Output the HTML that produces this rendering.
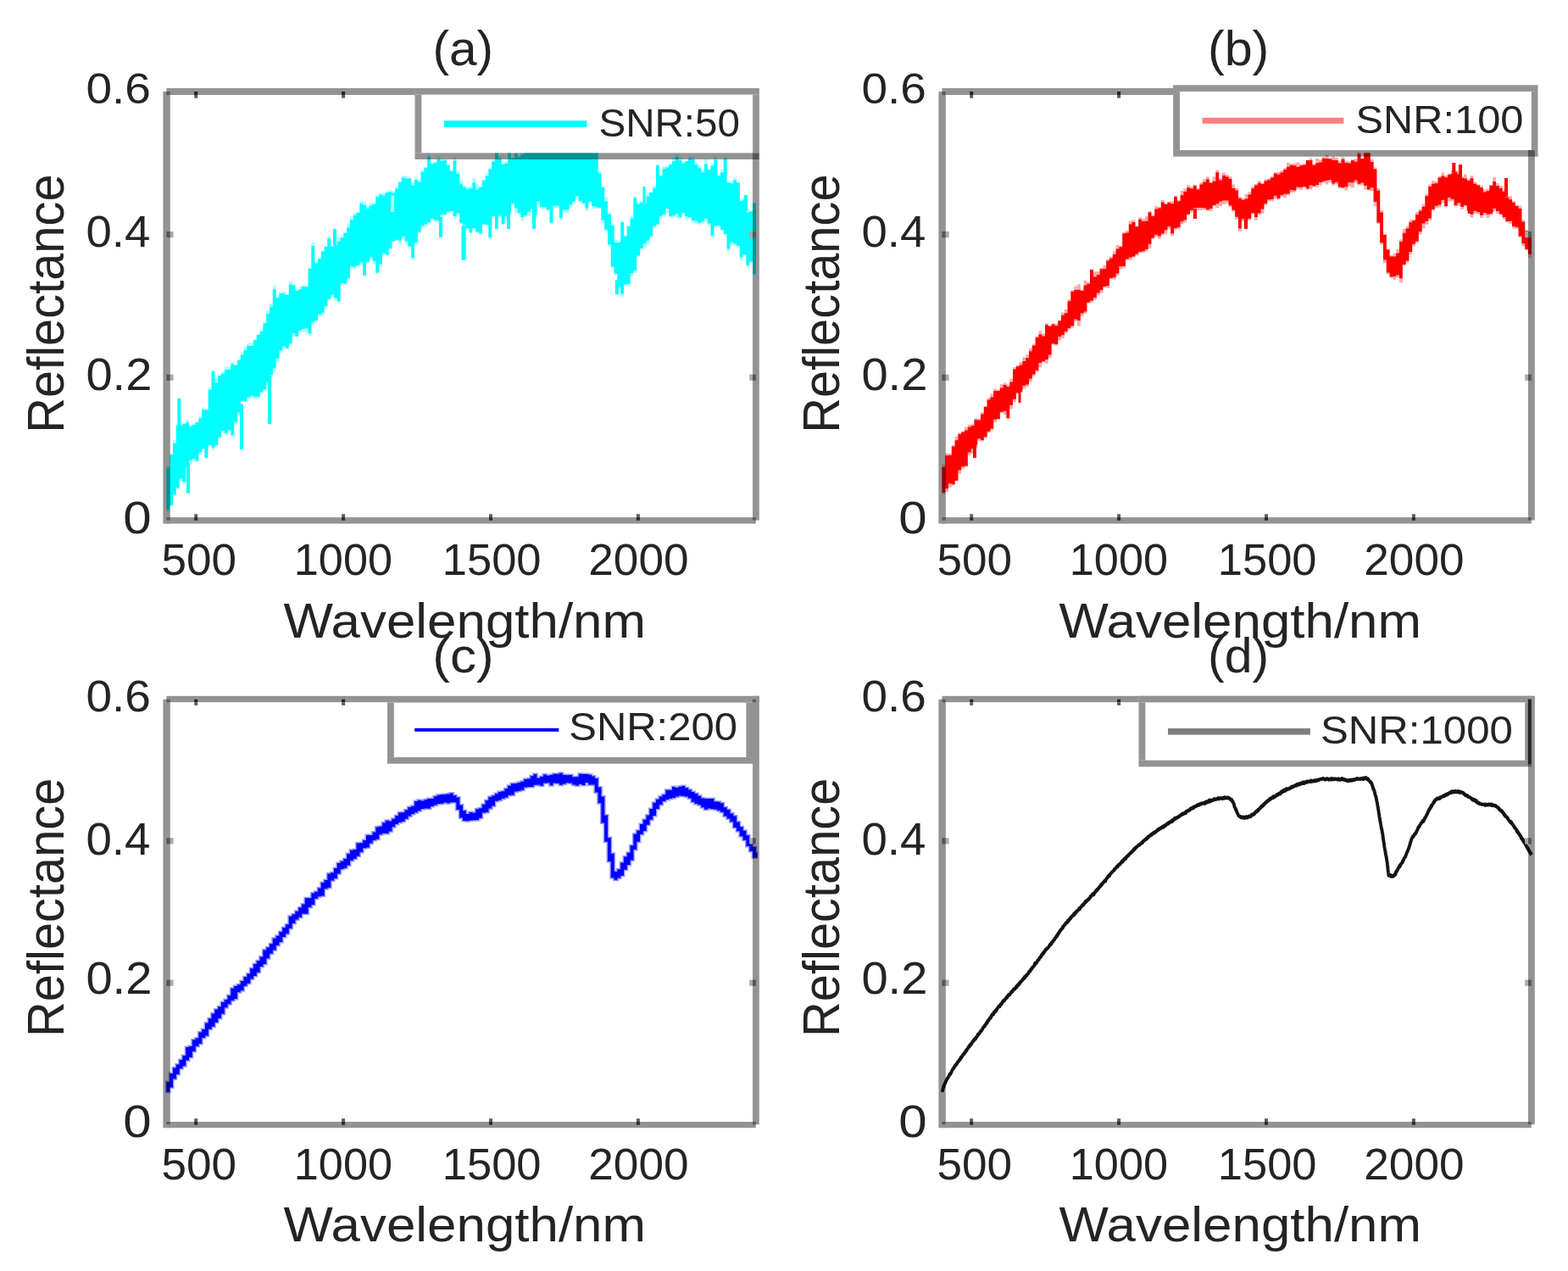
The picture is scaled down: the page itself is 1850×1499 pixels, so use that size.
<!DOCTYPE html>
<html><head><meta charset="utf-8"><title>Reflectance spectra under different SNR</title>
<style>html,body{margin:0;padding:0;background:#fff;overflow:hidden}svg{display:block}</style>
</head><body>
<svg width="1850" height="1499" viewBox="0 0 1850 1499">
<rect width="1850" height="1499" fill="#ffffff"/>
<defs>
<clipPath id="clipa"><rect x="194.4" y="106" width="699.6" height="509.8"/></clipPath>
<clipPath id="clipb"><rect x="1109.4" y="106" width="699.6" height="509.8"/></clipPath>
<clipPath id="clipc"><rect x="194.4" y="822.5" width="699.6" height="506"/></clipPath>
<clipPath id="clipd"><rect x="1109.4" y="822.5" width="699.6" height="506"/></clipPath>
</defs>
<path clip-path="url(#clipa)" d="M196.4 549.8 200.2 549.8 200.2 534.5 204 534.5 204 519.2 207.8 519.2 207.8 500.1 211.6 500.1 211.6 500.6 215.4 500.6 215.4 498.8 219.2 498.8 219.2 495 223 495 223 500.7 226.8 500.7 226.8 499.6 230.6 499.6 230.6 497 234.4 497 234.4 490.4 238.2 490.4 238.2 481.4 242 481.4 242 482 245.8 482 245.8 456.6 249.6 456.6 249.6 436.4 253.4 436.4 253.4 446.5 257.2 446.5 257.2 441 261 441 261 438.8 264.8 438.8 264.8 433.1 268.6 433.1 268.6 432.5 272.4 432.5 272.4 426.5 276.2 426.5 276.2 429.9 280 429.9 280 423.8 283.8 423.8 283.8 415.5 287.6 415.5 287.6 409 291.4 409 291.4 404.8 295.2 404.8 295.2 403.5 299 403.5 299 399.9 302.8 399.9 302.8 394 306.6 394 306.6 387.7 310.4 387.7 310.4 380.2 314.2 380.2 314.2 366.3 318 366.3 318 358 321.8 358 321.8 336.9 325.6 336.9 325.6 348.6 329.4 348.6 329.4 344.4 333.2 344.4 333.2 343.6 337 343.6 337 346.8 340.8 346.8 340.8 332.1 344.6 332.1 344.6 334.8 348.4 334.8 348.4 341.7 352.2 341.7 352.2 338.1 356 338.1 356 336.8 359.8 336.8 359.8 336.9 363.6 336.9 363.6 315.5 367.4 315.5 367.4 285.5 371.2 285.5 371.2 309 375 309 375 304 378.8 304 378.8 295.3 382.6 295.3 382.6 289.9 386.4 289.9 386.4 278.8 390.2 278.8 390.2 290 394 290 394 288.1 397.8 288.1 397.8 279.9 401.6 279.9 401.6 277.5 405.4 277.5 405.4 273.4 409.2 273.4 409.2 263.7 413 263.7 413 255.3 416.8 255.3 416.8 251.4 420.6 251.4 420.6 250 424.4 250 424.4 236.7 428.2 236.7 428.2 238.4 432 238.4 432 243.1 435.8 243.1 435.8 239.2 439.6 239.2 439.6 238.8 443.4 238.8 443.4 230 447.2 230 447.2 228 451 228 451 227.8 454.8 227.8 454.8 226 458.6 226 458.6 223.8 462.4 223.8 462.4 225.4 466.2 225.4 466.2 220 470 220 470 213.9 473.8 213.9 473.8 207.6 477.6 207.6 477.6 207.4 481.4 207.4 481.4 209.5 485.2 209.5 485.2 214.9 489 214.9 489 208.5 492.8 208.5 492.8 211.7 496.6 211.7 496.6 200.9 500.4 200.9 500.4 196.7 504.2 196.7 504.2 182.4 508 182.4 508 191.4 511.8 191.4 511.8 190.5 515.6 190.5 515.6 184.4 519.4 184.4 519.4 188 523.2 188 523.2 187.6 527 187.6 527 193.5 530.8 193.5 530.8 200.1 534.6 200.1 534.6 185.4 538.4 185.4 538.4 201.3 542.2 201.3 542.2 213.3 546 213.3 546 218.9 549.8 218.9 549.8 220.1 553.6 220.1 553.6 220 557.4 220 557.4 209.9 561.2 209.9 561.2 217.1 565 217.1 565 219.5 568.8 219.5 568.8 211.8 572.6 211.8 572.6 204.6 576.4 204.6 576.4 197.9 580.2 197.9 580.2 188.4 584 188.4 584 173.4 587.8 173.4 587.8 184.4 591.6 184.4 591.6 192.9 595.4 192.9 595.4 189.8 599.2 189.8 599.2 175.3 603 175.3 603 185.7 606.8 185.7 606.8 179.4 610.6 179.4 610.6 183.5 614.4 183.5 614.4 177.5 618.2 177.5 618.2 174.7 622 174.7 622 164.4 625.8 164.4 625.8 172.1 629.6 172.1 629.6 166 633.4 166 633.4 167.9 637.2 167.9 637.2 167.5 641 167.5 641 172.6 644.8 172.6 644.8 168.6 648.6 168.6 648.6 169.8 652.4 169.8 652.4 166.2 656.2 166.2 656.2 170.1 660 170.1 660 169.1 663.8 169.1 663.8 168.3 667.6 168.3 667.6 165.7 671.4 165.7 671.4 170.7 675.2 170.7 675.2 169.8 679 169.8 679 167.1 682.8 167.1 682.8 167 686.6 167 686.6 165.1 690.4 165.1 690.4 164.9 694.2 164.9 694.2 167.5 698 167.5 698 164.2 701.8 164.2 701.8 174.2 705.6 174.2 705.6 202.2 709.4 202.2 709.4 219.9 713.2 219.9 713.2 232.2 717 232.2 717 250.5 720.8 250.5 720.8 263 724.6 263 724.6 283.1 728.4 283.1 728.4 284.6 732.2 284.6 732.2 286.7 736 286.7 736 277.6 739.8 277.6 739.8 266.1 743.6 266.1 743.6 254.2 747.4 254.2 747.4 231.6 751.2 231.6 751.2 239.1 755 239.1 755 237 758.8 237 758.8 238.1 762.6 238.1 762.6 227.1 766.4 227.1 766.4 226.1 770.2 226.1 770.2 219 774 219 774 193.9 777.8 193.9 777.8 205.4 781.6 205.4 781.6 196.2 785.4 196.2 785.4 195.6 789.2 195.6 789.2 192.4 793 192.4 793 184.9 796.8 184.9 796.8 182.1 800.6 182.1 800.6 185.5 804.4 185.5 804.4 191.1 808.2 191.1 808.2 189.2 812 189.2 812 184.4 815.8 184.4 815.8 184.8 819.6 184.8 819.6 191.5 823.4 191.5 823.4 195.7 827.2 195.7 827.2 200.4 831 200.4 831 187.6 834.8 187.6 834.8 199.1 838.6 199.1 838.6 192.6 842.4 192.6 842.4 184.5 846.2 184.5 846.2 205.4 850 205.4 850 199.8 853.8 199.8 853.8 185.2 857.6 185.2 857.6 214.6 861.4 214.6 861.4 213.1 865.2 213.1 865.2 209.3 869 209.3 869 214.6 872.8 214.6 872.8 234.8 876.6 234.8 876.6 233.1 880.4 233.1 880.4 246 884.2 246 884.2 248.4 888 248.4 888 238.2 891.8 238.2 891.8 244.2 892 244.2 892 314.7 891.8 314.7 891.8 324.4 888 324.4 888 310.3 884.2 310.3 884.2 315.5 880.4 315.5 880.4 301.2 876.6 301.2 876.6 306.4 872.8 306.4 872.8 292.8 869 292.8 869 289.8 865.2 289.8 865.2 288 861.4 288 861.4 296.1 857.6 296.1 857.6 277 853.8 277 853.8 271.8 850 271.8 850 267.7 846.2 267.7 846.2 267.5 842.4 267.5 842.4 280 838.6 280 838.6 266.7 834.8 266.7 834.8 260.9 831 260.9 831 264.5 827.2 264.5 827.2 264.9 823.4 264.9 823.4 263.4 819.6 263.4 819.6 262.7 815.8 262.7 815.8 257.6 812 257.6 812 259.8 808.2 259.8 808.2 252.4 804.4 252.4 804.4 257.8 800.6 257.8 800.6 257 796.8 257 796.8 256 793 256 793 256.8 789.2 256.8 789.2 250.9 785.4 250.9 785.4 254.9 781.6 254.9 781.6 258 777.8 258 777.8 266.6 774 266.6 774 269.3 770.2 269.3 770.2 280.4 766.4 280.4 766.4 288.6 762.6 288.6 762.6 292.5 758.8 292.5 758.8 294.6 755 294.6 755 302.6 751.2 302.6 751.2 321.7 747.4 321.7 747.4 325.9 743.6 325.9 743.6 337.7 739.8 337.7 739.8 337.4 736 337.4 736 350.4 732.2 350.4 732.2 341.1 728.4 341.1 728.4 324.2 724.6 324.2 724.6 315.5 720.8 315.5 720.8 290.6 717 290.6 717 273.3 713.2 273.3 713.2 263.2 709.4 263.2 709.4 246.2 705.6 246.2 705.6 246.2 701.8 246.2 701.8 245.9 698 245.9 698 238.7 694.2 238.7 694.2 248.7 690.4 248.7 690.4 241.3 686.6 241.3 686.6 239 682.8 239 682.8 235.7 679 235.7 679 239.4 675.2 239.4 675.2 245.1 671.4 245.1 671.4 252.1 667.6 252.1 667.6 250.1 663.8 250.1 663.8 258.9 660 258.9 660 245.2 656.2 245.2 656.2 244.6 652.4 244.6 652.4 263.9 648.6 263.9 648.6 248.8 644.8 248.8 644.8 246.5 641 246.5 641 246.6 637.2 246.6 637.2 241.8 633.4 241.8 633.4 257.8 629.6 257.8 629.6 250.6 625.8 250.6 625.8 255.2 622 255.2 622 255.7 618.2 255.7 618.2 260.4 614.4 260.4 614.4 252.8 610.6 252.8 610.6 251.6 606.8 251.6 606.8 242.3 603 242.3 603 252.5 599.2 252.5 599.2 259.3 595.4 259.3 595.4 265.3 591.6 265.3 591.6 256.6 587.8 256.6 587.8 271.3 584 271.3 584 257.8 580.2 257.8 580.2 282.2 576.4 282.2 576.4 266.4 572.6 266.4 572.6 265.4 568.8 265.4 568.8 277.6 565 277.6 565 274.6 561.2 274.6 561.2 270.7 557.4 270.7 557.4 275.3 553.6 275.3 553.6 270.7 549.8 270.7 549.8 266.6 546 266.6 546 264 542.2 264 542.2 253.8 538.4 253.8 538.4 258 534.6 258 534.6 250.3 530.8 250.3 530.8 251 527 251 527 254.4 523.2 254.4 523.2 254.7 519.4 254.7 519.4 261.9 515.6 261.9 515.6 261.3 511.8 261.3 511.8 259 508 259 508 263.4 504.2 263.4 504.2 267.6 500.4 267.6 500.4 269 496.6 269 496.6 275 492.8 275 492.8 287.7 489 287.7 489 306.9 485.2 306.9 485.2 291.9 481.4 291.9 481.4 287.6 477.6 287.6 477.6 281.1 473.8 281.1 473.8 287 470 287 470 283.7 466.2 283.7 466.2 285.3 462.4 285.3 462.4 294.7 458.6 294.7 458.6 302.5 454.8 302.5 454.8 300.2 451 300.2 451 314.4 447.2 314.4 447.2 323 443.4 323 443.4 311.4 439.6 311.4 439.6 306.1 435.8 306.1 435.8 310 432 310 432 315.5 428.2 315.5 428.2 312.6 424.4 312.6 424.4 314 420.6 314 420.6 316.8 416.8 316.8 416.8 317 413 317 413 330.3 409.2 330.3 409.2 336.1 405.4 336.1 405.4 336.6 401.6 336.6 401.6 356.7 397.8 356.7 397.8 355 394 355 394 350.6 390.2 350.6 390.2 354.5 386.4 354.5 386.4 362.3 382.6 362.3 382.6 372.2 378.8 372.2 378.8 373.1 375 373.1 375 379.3 371.2 379.3 371.2 384.1 367.4 384.1 367.4 396.6 363.6 396.6 363.6 393.4 359.8 393.4 359.8 391.5 356 391.5 356 391.5 352.2 391.5 352.2 397.7 348.4 397.7 348.4 396.7 344.6 396.7 344.6 406.3 340.8 406.3 340.8 411.7 337 411.7 337 409.9 333.2 409.9 333.2 416.5 329.4 416.5 329.4 426.9 325.6 426.9 325.6 439.1 321.8 439.1 321.8 445.5 318 445.5 318 454.1 314.2 454.1 314.2 461 310.4 461 310.4 464.5 306.6 464.5 306.6 469.8 302.8 469.8 302.8 470.9 299 470.9 299 469.2 295.2 469.2 295.2 470.3 291.4 470.3 291.4 474.6 287.6 474.6 287.6 473.8 283.8 473.8 283.8 489.2 280 489.2 280 499.7 276.2 499.7 276.2 515.5 272.4 515.5 272.4 508.7 268.6 508.7 268.6 512.4 264.8 512.4 264.8 510.8 261 510.8 261 516.9 257.2 516.9 257.2 526.3 253.4 526.3 253.4 530.8 249.6 530.8 249.6 525.7 245.8 525.7 245.8 532 242 532 242 530.1 238.2 530.1 238.2 536.5 234.4 536.5 234.4 545.1 230.6 545.1 230.6 543.4 226.8 543.4 226.8 547.7 223 547.7 223 552 219.2 552 219.2 570.9 215.4 570.9 215.4 568.1 211.6 568.1 211.6 576.9 207.8 576.9 207.8 585.1 204 585.1 204 597.5 200.2 597.5 200.2 604.2 196.4 604.2Z" fill="#aaffff"/>
<path clip-path="url(#clipa)" d="M196.4 551.7 200.2 551.7 200.2 536.4 204 536.4 204 522.9 207.8 522.9 207.8 501.6 211.6 501.6 211.6 501.8 215.4 501.8 215.4 499.9 219.2 499.9 219.2 498.5 223 498.5 223 502.9 226.8 502.9 226.8 501 230.6 501 230.6 498.4 234.4 498.4 234.4 493.2 238.2 493.2 238.2 483.3 242 483.3 242 483.5 245.8 483.5 245.8 459.8 249.6 459.8 249.6 438.1 253.4 438.1 253.4 451.6 257.2 451.6 257.2 443.3 261 443.3 261 440.8 264.8 440.8 264.8 436.1 268.6 436.1 268.6 435.7 272.4 435.7 272.4 429.2 276.2 429.2 276.2 431 280 431 280 424.9 283.8 424.9 283.8 418.4 287.6 418.4 287.6 412.9 291.4 412.9 291.4 407.9 295.2 407.9 295.2 408 299 408 299 401.2 302.8 401.2 302.8 395.1 306.6 395.1 306.6 391.1 310.4 391.1 310.4 381.4 314.2 381.4 314.2 370.3 318 370.3 318 362 321.8 362 321.8 341.2 325.6 341.2 325.6 351.3 329.4 351.3 329.4 346.2 333.2 346.2 333.2 346.2 337 346.2 337 348 340.8 348 340.8 335.4 344.6 335.4 344.6 336.8 348.4 336.8 348.4 342.8 352.2 342.8 352.2 341.2 356 341.2 356 337.8 359.8 337.8 359.8 338.6 363.6 338.6 363.6 316.9 367.4 316.9 367.4 290.1 371.2 290.1 371.2 310.5 375 310.5 375 305.1 378.8 305.1 378.8 297 382.6 297 382.6 291.3 386.4 291.3 386.4 281.4 390.2 281.4 390.2 291 394 291 394 289.8 397.8 289.8 397.8 284.8 401.6 284.8 401.6 280.4 405.4 280.4 405.4 275 409.2 275 409.2 268.5 413 268.5 413 259.2 416.8 259.2 416.8 253.7 420.6 253.7 420.6 251.1 424.4 251.1 424.4 239.8 428.2 239.8 428.2 242 432 242 432 245.7 435.8 245.7 435.8 242.6 439.6 242.6 439.6 241 443.4 241 443.4 232.3 447.2 232.3 447.2 229.6 451 229.6 451 230.4 454.8 230.4 454.8 227 458.6 227 458.6 226.4 462.4 226.4 462.4 227.6 466.2 227.6 466.2 222.8 470 222.8 470 215 473.8 215 473.8 209.4 477.6 209.4 477.6 210.4 481.4 210.4 481.4 210.5 485.2 210.5 485.2 218.4 489 218.4 489 212.3 492.8 212.3 492.8 214.8 496.6 214.8 496.6 202.7 500.4 202.7 500.4 197.9 504.2 197.9 504.2 184.9 508 184.9 508 193.6 511.8 193.6 511.8 192 515.6 192 515.6 188.1 519.4 188.1 519.4 189.8 523.2 189.8 523.2 189.1 527 189.1 527 195 530.8 195 530.8 202 534.6 202 534.6 189.5 538.4 189.5 538.4 204.8 542.2 204.8 542.2 217.5 546 217.5 546 220.7 549.8 220.7 549.8 223.3 553.6 223.3 553.6 222.1 557.4 222.1 557.4 215.4 561.2 215.4 561.2 223.6 565 223.6 565 221.1 568.8 221.1 568.8 213.1 572.6 213.1 572.6 207.5 576.4 207.5 576.4 199.5 580.2 199.5 580.2 190.4 584 190.4 584 175.7 587.8 175.7 587.8 187.2 591.6 187.2 591.6 194 595.4 194 595.4 192.4 599.2 192.4 599.2 177 603 177 603 186.7 606.8 186.7 606.8 181.1 610.6 181.1 610.6 185 614.4 185 614.4 182.3 618.2 182.3 618.2 177.1 622 177.1 622 166.1 625.8 166.1 625.8 173.2 629.6 173.2 629.6 167.7 633.4 167.7 633.4 170.2 637.2 170.2 637.2 169.9 641 169.9 641 173.8 644.8 173.8 644.8 169.8 648.6 169.8 648.6 171.4 652.4 171.4 652.4 168.5 656.2 168.5 656.2 171.7 660 171.7 660 171.4 663.8 171.4 663.8 170.8 667.6 170.8 667.6 166.8 671.4 166.8 671.4 171.8 675.2 171.8 675.2 171.1 679 171.1 679 170.5 682.8 170.5 682.8 169.3 686.6 169.3 686.6 168.1 690.4 168.1 690.4 167.8 694.2 167.8 694.2 168.8 698 168.8 698 165.4 701.8 165.4 701.8 177.5 705.6 177.5 705.6 204.2 709.4 204.2 709.4 221.1 713.2 221.1 713.2 237.4 717 237.4 717 252.5 720.8 252.5 720.8 266.3 724.6 266.3 724.6 286.2 728.4 286.2 728.4 286 732.2 286 732.2 287.8 736 287.8 736 278.7 739.8 278.7 739.8 267.3 743.6 267.3 743.6 257.6 747.4 257.6 747.4 233.3 751.2 233.3 751.2 240.8 755 240.8 755 239.1 758.8 239.1 758.8 240.3 762.6 240.3 762.6 231.5 766.4 231.5 766.4 227.3 770.2 227.3 770.2 222 774 222 774 195 777.8 195 777.8 207.6 781.6 207.6 781.6 199.3 785.4 199.3 785.4 197.5 789.2 197.5 789.2 194.2 793 194.2 793 190.3 796.8 190.3 796.8 185.2 800.6 185.2 800.6 189.3 804.4 189.3 804.4 192.5 808.2 192.5 808.2 190.3 812 190.3 812 187 815.8 187 815.8 188 819.6 188 819.6 194.3 823.4 194.3 823.4 198.2 827.2 198.2 827.2 203.2 831 203.2 831 193.4 834.8 193.4 834.8 200.5 838.6 200.5 838.6 195.4 842.4 195.4 842.4 188.4 846.2 188.4 846.2 207.5 850 207.5 850 203.2 853.8 203.2 853.8 186.9 857.6 186.9 857.6 215.6 861.4 215.6 861.4 216.3 865.2 216.3 865.2 212.4 869 212.4 869 215.6 872.8 215.6 872.8 237 876.6 237 876.6 235.8 880.4 235.8 880.4 250.2 884.2 250.2 884.2 249.5 888 249.5 888 239.9 891.8 239.9 891.8 249 892 249 892 313.4 891.8 313.4 891.8 323 888 323 888 308.3 884.2 308.3 884.2 312.7 880.4 312.7 880.4 300 876.6 300 876.6 303.3 872.8 303.3 872.8 289.7 869 289.7 869 287.5 865.2 287.5 865.2 285.4 861.4 285.4 861.4 293.6 857.6 293.6 857.6 275.9 853.8 275.9 853.8 270.7 850 270.7 850 266.3 846.2 266.3 846.2 265.9 842.4 265.9 842.4 277.7 838.6 277.7 838.6 263.4 834.8 263.4 834.8 257.7 831 257.7 831 261.2 827.2 261.2 827.2 262.7 823.4 262.7 823.4 260.7 819.6 260.7 819.6 259.9 815.8 259.9 815.8 256.1 812 256.1 812 255.3 808.2 255.3 808.2 251.1 804.4 251.1 804.4 256.2 800.6 256.2 800.6 251.9 796.8 251.9 796.8 254.3 793 254.3 793 254.9 789.2 254.9 789.2 245.9 785.4 245.9 785.4 253.1 781.6 253.1 781.6 254.8 777.8 254.8 777.8 264.6 774 264.6 774 266.4 770.2 266.4 770.2 278.5 766.4 278.5 766.4 283.7 762.6 283.7 762.6 286.9 758.8 286.9 758.8 292.8 755 292.8 755 301.5 751.2 301.5 751.2 318.8 747.4 318.8 747.4 322.1 743.6 322.1 743.6 334.6 739.8 334.6 739.8 335.4 736 335.4 736 346.6 732.2 346.6 732.2 338.6 728.4 338.6 728.4 322.8 724.6 322.8 724.6 314.4 720.8 314.4 720.8 288.2 717 288.2 717 270.8 713.2 270.8 713.2 259.6 709.4 259.6 709.4 245.1 705.6 245.1 705.6 244.2 701.8 244.2 701.8 243.1 698 243.1 698 237.4 694.2 237.4 694.2 245.8 690.4 245.8 690.4 239.4 686.6 239.4 686.6 236.9 682.8 236.9 682.8 231.3 679 231.3 679 237.9 675.2 237.9 675.2 241.6 671.4 241.6 671.4 247.2 667.6 247.2 667.6 247.3 663.8 247.3 663.8 257.2 660 257.2 660 242.8 656.2 242.8 656.2 242.5 652.4 242.5 652.4 262.7 648.6 262.7 648.6 247.3 644.8 247.3 644.8 244.6 641 244.6 641 244.2 637.2 244.2 637.2 237.4 633.4 237.4 633.4 253.8 629.6 253.8 629.6 246 625.8 246 625.8 249.6 622 249.6 622 254 618.2 254 618.2 256 614.4 256 614.4 251.1 610.6 251.1 610.6 245.5 606.8 245.5 606.8 239.8 603 239.8 603 250.5 599.2 250.5 599.2 255 595.4 255 595.4 263.9 591.6 263.9 591.6 254.4 587.8 254.4 587.8 269.8 584 269.8 584 254.7 580.2 254.7 580.2 279.9 576.4 279.9 576.4 265.1 572.6 265.1 572.6 264.3 568.8 264.3 568.8 275 565 275 565 273.4 561.2 273.4 561.2 269 557.4 269 557.4 274.2 553.6 274.2 553.6 268.9 549.8 268.9 549.8 265.4 546 265.4 546 262.8 542.2 262.8 542.2 251.5 538.4 251.5 538.4 255.1 534.6 255.1 534.6 248.9 530.8 248.9 530.8 249.4 527 249.4 527 253.1 523.2 253.1 523.2 253 519.4 253 519.4 259.7 515.6 259.7 515.6 259.2 511.8 259.2 511.8 257.8 508 257.8 508 262.3 504.2 262.3 504.2 264.4 500.4 264.4 500.4 266.3 496.6 266.3 496.6 273.5 492.8 273.5 492.8 285.9 489 285.9 489 303.9 485.2 303.9 485.2 290.6 481.4 290.6 481.4 284.2 477.6 284.2 477.6 278.5 473.8 278.5 473.8 283.8 470 283.8 470 282.7 466.2 282.7 466.2 284.2 462.4 284.2 462.4 293 458.6 293 458.6 300.2 454.8 300.2 454.8 298.6 451 298.6 451 311.3 447.2 311.3 447.2 321.6 443.4 321.6 443.4 307.7 439.6 307.7 439.6 303.2 435.8 303.2 435.8 308.7 432 308.7 432 311.6 428.2 311.6 428.2 309.5 424.4 309.5 424.4 312.7 420.6 312.7 420.6 314.5 416.8 314.5 416.8 314.3 413 314.3 413 328.1 409.2 328.1 409.2 334.5 405.4 334.5 405.4 333.9 401.6 333.9 401.6 355.3 397.8 355.3 397.8 351.5 394 351.5 394 347.6 390.2 347.6 390.2 352.4 386.4 352.4 386.4 361.1 382.6 361.1 382.6 369 378.8 369 378.8 371 375 371 375 377.8 371.2 377.8 371.2 380 367.4 380 367.4 393.2 363.6 393.2 363.6 387.1 359.8 387.1 359.8 387.9 356 387.9 356 389.4 352.2 389.4 352.2 396.6 348.4 396.6 348.4 393.1 344.6 393.1 344.6 405.3 340.8 405.3 340.8 410.7 337 410.7 337 408.2 333.2 408.2 333.2 413.6 329.4 413.6 329.4 422.8 325.6 422.8 325.6 433.9 321.8 433.9 321.8 442.2 318 442.2 318 450.6 314.2 450.6 314.2 458.9 310.4 458.9 310.4 462.2 306.6 462.2 306.6 467.9 302.8 467.9 302.8 467.7 299 467.7 299 466.8 295.2 466.8 295.2 468.6 291.4 468.6 291.4 472.9 287.6 472.9 287.6 472.8 283.8 472.8 283.8 486.6 280 486.6 280 498.2 276.2 498.2 276.2 512.9 272.4 512.9 272.4 506.9 268.6 506.9 268.6 511 264.8 511 264.8 507.8 261 507.8 261 515.5 257.2 515.5 257.2 524.7 253.4 524.7 253.4 527.7 249.6 527.7 249.6 524.7 245.8 524.7 245.8 528 242 528 242 528.9 238.2 528.9 238.2 533.2 234.4 533.2 234.4 543.2 230.6 543.2 230.6 541 226.8 541 226.8 542.7 223 542.7 223 550.8 219.2 550.8 219.2 568.1 215.4 568.1 215.4 564.1 211.6 564.1 211.6 575.6 207.8 575.6 207.8 583.2 204 583.2 204 595.7 200.2 595.7 200.2 601.2 196.4 601.2ZM220 546.8H224V581.9H220ZM209.4 470H213.4V504.9H209.4ZM544.6 266.2H549.6V306.7H544.6ZM725.8 330.3H729.8V347.3H725.8ZM732.2 261.8H736.2V289.5H732.2ZM316.1 443.2H320.1V500H316.1ZM283 476.5H287V530H283ZM241.4 524.3H245.4V540H241.4ZM461 250H465V230.4H461ZM628 241H632V270H628ZM598 247.9H602V270H598ZM518 256H522V280H518ZM758.5 220H761.5V240.1H758.5ZM878 230H882V248.7H878ZM428 304.2H432V325H428ZM393 270H397V290.2H393Z" fill="#00ffff"/>
<g style="mix-blend-mode:multiply"><rect x="192.4" y="108" width="8.4" height="509.6" fill="#939393"/><rect x="196.4" y="104" width="699.4" height="8" fill="#939393"/><rect x="888" y="104" width="7.8" height="509.6" fill="#939393"/><rect x="196.4" y="610.1" width="695.4" height="7.5" fill="#939393"/></g>
<g><rect x="229.2" y="108" width="4" height="4" fill="#222"/><rect x="229.2" y="112" width="4" height="3.7" fill="#5e5e5e"/><rect x="229.2" y="610.1" width="4" height="3.7" fill="#2a2a2a"/><rect x="229.2" y="606.3" width="4" height="3.8" fill="#5e5e5e"/><rect x="403.1" y="108" width="4" height="4" fill="#222"/><rect x="403.1" y="112" width="4" height="3.7" fill="#5e5e5e"/><rect x="403.1" y="610.1" width="4" height="3.7" fill="#2a2a2a"/><rect x="403.1" y="606.3" width="4" height="3.8" fill="#5e5e5e"/><rect x="577" y="108" width="4" height="4" fill="#222"/><rect x="577" y="112" width="4" height="3.7" fill="#5e5e5e"/><rect x="577" y="610.1" width="4" height="3.7" fill="#2a2a2a"/><rect x="577" y="606.3" width="4" height="3.8" fill="#5e5e5e"/><rect x="750.9" y="108" width="4" height="4" fill="#222"/><rect x="750.9" y="112" width="4" height="3.7" fill="#5e5e5e"/><rect x="750.9" y="610.1" width="4" height="3.7" fill="#2a2a2a"/><rect x="750.9" y="606.3" width="4" height="3.8" fill="#5e5e5e"/><rect x="196.4" y="441.6" width="4.4" height="7.2" fill="#555"/><rect x="200.8" y="441.6" width="3.8" height="7.2" fill="#aaa"/><rect x="888" y="441.6" width="3.8" height="7.2" fill="#555"/><rect x="884.2" y="441.6" width="3.8" height="7.2" fill="#aaa"/><rect x="196.4" y="273" width="4.4" height="7.2" fill="#555"/><rect x="200.8" y="273" width="3.8" height="7.2" fill="#aaa"/><rect x="888" y="273" width="3.8" height="7.2" fill="#555"/><rect x="884.2" y="273" width="3.8" height="7.2" fill="#aaa"/><rect x="196.4" y="108" width="4.4" height="4" fill="#5c5c5c"/><rect x="888" y="108" width="3.8" height="4" fill="#5c5c5c"/><rect x="196.4" y="610.1" width="4.4" height="3.5" fill="#5c5c5c"/><rect x="888" y="610.1" width="3.8" height="3.5" fill="#5c5c5c"/></g>
<rect x="489.5" y="104" width="406.2" height="76.4" fill="#ffffff"/>
<g style="mix-blend-mode:multiply"><rect x="489.5" y="104" width="406.2" height="7.6" fill="#939393"/><rect x="489.5" y="180.4" width="406.2" height="7.6" fill="#939393"/><rect x="489.5" y="111.6" width="7.8" height="68.8" fill="#939393"/><rect x="888.1" y="111.6" width="7.6" height="68.8" fill="#939393"/></g>
<rect x="524" y="142.3" width="168.4" height="7.6" fill="#00ffff"/>
<path clip-path="url(#clipb)" d="M1111.4 548.1 1115.2 548.1 1115.2 534.7 1119 534.7 1119 534.7 1122.8 534.7 1122.8 525.2 1126.6 525.2 1126.6 514.8 1130.4 514.8 1130.4 510.5 1134.2 510.5 1134.2 508.2 1138 508.2 1138 503.4 1141.8 503.4 1141.8 500.8 1145.6 500.8 1145.6 500.3 1149.4 500.3 1149.4 493.2 1153.2 493.2 1153.2 493.6 1157 493.6 1157 486.2 1160.8 486.2 1160.8 478.9 1164.6 478.9 1164.6 469.4 1168.4 469.4 1168.4 464.5 1172.2 464.5 1172.2 458.3 1176 458.3 1176 459.5 1179.8 459.5 1179.8 453.1 1183.6 453.1 1183.6 451.5 1187.4 451.5 1187.4 453.6 1191.2 453.6 1191.2 446.7 1195 446.7 1195 433 1198.8 433 1198.8 430.7 1202.6 430.7 1202.6 426.9 1206.4 426.9 1206.4 421.4 1210.2 421.4 1210.2 418.3 1214 418.3 1214 410.8 1217.8 410.8 1217.8 405.5 1221.6 405.5 1221.6 396.5 1225.4 396.5 1225.4 390.3 1229.2 390.3 1229.2 393.4 1233 393.4 1233 380.9 1236.8 380.9 1236.8 383.7 1240.6 383.7 1240.6 381.3 1244.4 381.3 1244.4 381.7 1248.2 381.7 1248.2 377.4 1252 377.4 1252 368.4 1255.8 368.4 1255.8 364.9 1259.6 364.9 1259.6 353.1 1263.4 353.1 1263.4 342.6 1267.2 342.6 1267.2 337.7 1271 337.7 1271 335.2 1274.8 335.2 1274.8 341.7 1278.6 341.7 1278.6 330.7 1282.4 330.7 1282.4 332.8 1286.2 332.8 1286.2 326.1 1290 326.1 1290 320.3 1293.8 320.3 1293.8 320.3 1297.6 320.3 1297.6 316.1 1301.4 316.1 1301.4 313 1305.2 313 1305.2 305.5 1309 305.5 1309 302.6 1312.8 302.6 1312.8 296.5 1316.6 296.5 1316.6 289.1 1320.4 289.1 1320.4 290 1324.2 290 1324.2 274.1 1328 274.1 1328 272.1 1331.8 272.1 1331.8 260.4 1335.6 260.4 1335.6 259.3 1339.4 259.3 1339.4 266.3 1343.2 266.3 1343.2 256.5 1347 256.5 1347 258.2 1350.8 258.2 1350.8 255.3 1354.6 255.3 1354.6 249.1 1358.4 249.1 1358.4 253.4 1362.2 253.4 1362.2 242.9 1366 242.9 1366 244 1369.8 244 1369.8 235.8 1373.6 235.8 1373.6 239.7 1377.4 239.7 1377.4 237.4 1381.2 237.4 1381.2 237.2 1385 237.2 1385 230.8 1388.8 230.8 1388.8 236 1392.6 236 1392.6 224.9 1396.4 224.9 1396.4 222.5 1400.2 222.5 1400.2 218.6 1404 218.6 1404 220.4 1407.8 220.4 1407.8 217.5 1411.6 217.5 1411.6 221.6 1415.4 221.6 1415.4 215.3 1419.2 215.3 1419.2 211.2 1423 211.2 1423 208.3 1426.8 208.3 1426.8 214.6 1430.6 214.6 1430.6 208.3 1434.4 208.3 1434.4 200.4 1438.2 200.4 1438.2 210.3 1442 210.3 1442 203.6 1445.8 203.6 1445.8 205.8 1449.6 205.8 1449.6 208 1453.4 208 1453.4 217.5 1457.2 217.5 1457.2 221.8 1461 221.8 1461 232.5 1464.8 232.5 1464.8 233.8 1468.6 233.8 1468.6 229.1 1472.4 229.1 1472.4 226.2 1476.2 226.2 1476.2 219.8 1480 219.8 1480 217.1 1483.8 217.1 1483.8 213.2 1487.6 213.2 1487.6 215.5 1491.4 215.5 1491.4 211.3 1495.2 211.3 1495.2 210.3 1499 210.3 1499 208.1 1502.8 208.1 1502.8 203.3 1506.6 203.3 1506.6 202.7 1510.4 202.7 1510.4 201.1 1514.2 201.1 1514.2 197.9 1518 197.9 1518 191.7 1521.8 191.7 1521.8 193.3 1525.6 193.3 1525.6 192.8 1529.4 192.8 1529.4 191.4 1533.2 191.4 1533.2 193.6 1537 193.6 1537 193.3 1540.8 193.3 1540.8 189.4 1544.6 189.4 1544.6 186.8 1548.4 186.8 1548.4 193.2 1552.2 193.2 1552.2 187.1 1556 187.1 1556 188.6 1559.8 188.6 1559.8 185.5 1563.6 185.5 1563.6 182.8 1567.4 182.8 1567.4 186.3 1571.2 186.3 1571.2 184.5 1575 184.5 1575 185.9 1578.8 185.9 1578.8 190.2 1582.6 190.2 1582.6 185.4 1586.4 185.4 1586.4 189.5 1590.2 189.5 1590.2 190.5 1594 190.5 1594 187.9 1597.8 187.9 1597.8 187.2 1601.6 187.2 1601.6 179.4 1605.4 179.4 1605.4 186.2 1609.2 186.2 1609.2 179.2 1613 179.2 1613 179.4 1616.8 179.4 1616.8 187.7 1620.6 187.7 1620.6 197.5 1624.4 197.5 1624.4 222.1 1628.2 222.1 1628.2 248 1632 248 1632 275.5 1635.8 275.5 1635.8 293.4 1639.6 293.4 1639.6 301.1 1643.4 301.1 1643.4 298.8 1647.2 298.8 1647.2 294.1 1651 294.1 1651 282.5 1654.8 282.5 1654.8 270 1658.6 270 1658.6 266.4 1662.4 266.4 1662.4 259.2 1666.2 259.2 1666.2 259.1 1670 259.1 1670 250 1673.8 250 1673.8 246.9 1677.6 246.9 1677.6 240.6 1681.4 240.6 1681.4 228.9 1685.2 228.9 1685.2 217.6 1689 217.6 1689 213.1 1692.8 213.1 1692.8 214.2 1696.6 214.2 1696.6 207.9 1700.4 207.9 1700.4 203.6 1704.2 203.6 1704.2 207.2 1708 207.2 1708 204.8 1711.8 204.8 1711.8 200.8 1715.6 200.8 1715.6 200.7 1719.4 200.7 1719.4 201.6 1723.2 201.6 1723.2 208.6 1727 208.6 1727 205.6 1730.8 205.6 1730.8 211.2 1734.6 211.2 1734.6 207.2 1738.4 207.2 1738.4 214.5 1742.2 214.5 1742.2 217.4 1746 217.4 1746 218.7 1749.8 218.7 1749.8 223.3 1753.6 223.3 1753.6 222.7 1757.4 222.7 1757.4 217.8 1761.2 217.8 1761.2 209 1765 209 1765 216.1 1768.8 216.1 1768.8 219 1772.6 219 1772.6 224.2 1776.4 224.2 1776.4 230.7 1780.2 230.7 1780.2 231.5 1784 231.5 1784 237.3 1787.8 237.3 1787.8 241.9 1791.6 241.9 1791.6 242.8 1795.4 242.8 1795.4 259.2 1799.2 259.2 1799.2 271.3 1803 271.3 1803 275.5 1806.8 275.5 1806.8 277.3 1807 277.3 1807 301.2 1806.8 301.2 1806.8 304 1803 304 1803 295.2 1799.2 295.2 1799.2 290.2 1795.4 290.2 1795.4 279.9 1791.6 279.9 1791.6 269.9 1787.8 269.9 1787.8 269.5 1784 269.5 1784 263.7 1780.2 263.7 1780.2 262.2 1776.4 262.2 1776.4 258.5 1772.6 258.5 1772.6 253.4 1768.8 253.4 1768.8 252.1 1765 252.1 1765 248.1 1761.2 248.1 1761.2 253.4 1757.4 253.4 1757.4 257 1753.6 257 1753.6 253.7 1749.8 253.7 1749.8 257.1 1746 257.1 1746 252.5 1742.2 252.5 1742.2 251.8 1738.4 251.8 1738.4 256.6 1734.6 256.6 1734.6 250.8 1730.8 250.8 1730.8 243.8 1727 243.8 1727 247.1 1723.2 247.1 1723.2 243.1 1719.4 243.1 1719.4 243.6 1715.6 243.6 1715.6 237.3 1711.8 237.3 1711.8 237.6 1708 237.6 1708 244.1 1704.2 244.1 1704.2 239.7 1700.4 239.7 1700.4 244.6 1696.6 244.6 1696.6 245.4 1692.8 245.4 1692.8 248.6 1689 248.6 1689 260.3 1685.2 260.3 1685.2 264.7 1681.4 264.7 1681.4 269.4 1677.6 269.4 1677.6 276.6 1673.8 276.6 1673.8 286.5 1670 286.5 1670 290.3 1666.2 290.3 1666.2 299.9 1662.4 299.9 1662.4 309.4 1658.6 309.4 1658.6 313.5 1654.8 313.5 1654.8 333.4 1651 333.4 1651 327.3 1647.2 327.3 1647.2 330 1643.4 330 1643.4 327.6 1639.6 327.6 1639.6 323.3 1635.8 323.3 1635.8 310.2 1632 310.2 1632 288.4 1628.2 288.4 1628.2 264.2 1624.4 264.2 1624.4 243.2 1620.6 243.2 1620.6 225 1616.8 225 1616.8 224.6 1613 224.6 1613 223.5 1609.2 223.5 1609.2 218.1 1605.4 218.1 1605.4 218.8 1601.6 218.8 1601.6 215.2 1597.8 215.2 1597.8 221.6 1594 221.6 1594 219.8 1590.2 219.8 1590.2 224.7 1586.4 224.7 1586.4 222.3 1582.6 222.3 1582.6 222.6 1578.8 222.6 1578.8 217.2 1575 217.2 1575 218.7 1571.2 218.7 1571.2 215 1567.4 215 1567.4 217.6 1563.6 217.6 1563.6 215.4 1559.8 215.4 1559.8 218.6 1556 218.6 1556 220.7 1552.2 220.7 1552.2 220.6 1548.4 220.6 1548.4 223.5 1544.6 223.5 1544.6 223.9 1540.8 223.9 1540.8 221.2 1537 221.2 1537 223.9 1533.2 223.9 1533.2 222.8 1529.4 222.8 1529.4 226.6 1525.6 226.6 1525.6 226.9 1521.8 226.9 1521.8 230.2 1518 230.2 1518 233.2 1514.2 233.2 1514.2 231.9 1510.4 231.9 1510.4 235.8 1506.6 235.8 1506.6 233.9 1502.8 233.9 1502.8 237.2 1499 237.2 1499 237 1495.2 237 1495.2 241.5 1491.4 241.5 1491.4 252.1 1487.6 252.1 1487.6 253.2 1483.8 253.2 1483.8 259.7 1480 259.7 1480 252.4 1476.2 252.4 1476.2 259.4 1472.4 259.4 1472.4 262.3 1468.6 262.3 1468.6 261.2 1464.8 261.2 1464.8 272.9 1461 272.9 1461 258.8 1457.2 258.8 1457.2 249.7 1453.4 249.7 1453.4 244.5 1449.6 244.5 1449.6 239.8 1445.8 239.8 1445.8 240.9 1442 240.9 1442 243 1438.2 243 1438.2 244.9 1434.4 244.9 1434.4 243.2 1430.6 243.2 1430.6 249 1426.8 249 1426.8 248.5 1423 248.5 1423 247.2 1419.2 247.2 1419.2 248.1 1415.4 248.1 1415.4 248.3 1411.6 248.3 1411.6 247.4 1407.8 247.4 1407.8 250.7 1404 250.7 1404 253.7 1400.2 253.7 1400.2 262.2 1396.4 262.2 1396.4 264 1392.6 264 1392.6 270.3 1388.8 270.3 1388.8 271.3 1385 271.3 1385 278.2 1381.2 278.2 1381.2 269.7 1377.4 269.7 1377.4 275.7 1373.6 275.7 1373.6 277.2 1369.8 277.2 1369.8 281.7 1366 281.7 1366 279.1 1362.2 279.1 1362.2 281.7 1358.4 281.7 1358.4 292.9 1354.6 292.9 1354.6 296.4 1350.8 296.4 1350.8 298.2 1347 298.2 1347 298.2 1343.2 298.2 1343.2 301.6 1339.4 301.6 1339.4 303.5 1335.6 303.5 1335.6 306.8 1331.8 306.8 1331.8 306.8 1328 306.8 1328 315.7 1324.2 315.7 1324.2 317.7 1320.4 317.7 1320.4 324.9 1316.6 324.9 1316.6 329.4 1312.8 329.4 1312.8 329.3 1309 329.3 1309 339.6 1305.2 339.6 1305.2 339.2 1301.4 339.2 1301.4 345.4 1297.6 345.4 1297.6 348.4 1293.8 348.4 1293.8 353.7 1290 353.7 1290 356.6 1286.2 356.6 1286.2 357.7 1282.4 357.7 1282.4 369.9 1278.6 369.9 1278.6 373.4 1274.8 373.4 1274.8 384.4 1271 384.4 1271 379.2 1267.2 379.2 1267.2 386.2 1263.4 386.2 1263.4 388.8 1259.6 388.8 1259.6 393.4 1255.8 393.4 1255.8 399 1252 399 1252 401.3 1248.2 401.3 1248.2 407.8 1244.4 407.8 1244.4 406.4 1240.6 406.4 1240.6 422 1236.8 422 1236.8 428.5 1233 428.5 1233 427.3 1229.2 427.3 1229.2 433.3 1225.4 433.3 1225.4 438.6 1221.6 438.6 1221.6 443.7 1217.8 443.7 1217.8 450.4 1214 450.4 1214 455.9 1210.2 455.9 1210.2 458.5 1206.4 458.5 1206.4 462.9 1202.6 462.9 1202.6 464.8 1198.8 464.8 1198.8 474.2 1195 474.2 1195 482.3 1191.2 482.3 1191.2 494.5 1187.4 494.5 1187.4 488.9 1183.6 488.9 1183.6 487.3 1179.8 487.3 1179.8 495.1 1176 495.1 1176 498.3 1172.2 498.3 1172.2 506.9 1168.4 506.9 1168.4 510.7 1164.6 510.7 1164.6 516.4 1160.8 516.4 1160.8 520.7 1157 520.7 1157 519.7 1153.2 519.7 1153.2 528.1 1149.4 528.1 1149.4 535.1 1145.6 535.1 1145.6 537.3 1141.8 537.3 1141.8 550.8 1138 550.8 1138 552.6 1134.2 552.6 1134.2 558.6 1130.4 558.6 1130.4 567.8 1126.6 567.8 1126.6 572.5 1122.8 572.5 1122.8 574.7 1119 574.7 1119 580.1 1115.2 580.1 1115.2 582.7 1111.4 582.7Z" fill="#ffaaaa"/>
<path clip-path="url(#clipb)" d="M1111.4 550.9 1115.2 550.9 1115.2 537.3 1119 537.3 1119 536.9 1122.8 536.9 1122.8 526.4 1126.6 526.4 1126.6 519.3 1130.4 519.3 1130.4 512 1134.2 512 1134.2 509.7 1138 509.7 1138 507.5 1141.8 507.5 1141.8 503.7 1145.6 503.7 1145.6 502 1149.4 502 1149.4 495.2 1153.2 495.2 1153.2 495.5 1157 495.5 1157 488.4 1160.8 488.4 1160.8 480 1164.6 480 1164.6 471.5 1168.4 471.5 1168.4 468.5 1172.2 468.5 1172.2 461 1176 461 1176 460.9 1179.8 460.9 1179.8 457.5 1183.6 457.5 1183.6 454 1187.4 454 1187.4 456.1 1191.2 456.1 1191.2 450.6 1195 450.6 1195 435.4 1198.8 435.4 1198.8 432.2 1202.6 432.2 1202.6 430.5 1206.4 430.5 1206.4 426.1 1210.2 426.1 1210.2 422.3 1214 422.3 1214 414.2 1217.8 414.2 1217.8 407.5 1221.6 407.5 1221.6 398.1 1225.4 398.1 1225.4 394.5 1229.2 394.5 1229.2 396.4 1233 396.4 1233 383.3 1236.8 383.3 1236.8 384.7 1240.6 384.7 1240.6 382.6 1244.4 382.6 1244.4 384.3 1248.2 384.3 1248.2 378.6 1252 378.6 1252 371.8 1255.8 371.8 1255.8 369.2 1259.6 369.2 1259.6 355.2 1263.4 355.2 1263.4 343.8 1267.2 343.8 1267.2 342.1 1271 342.1 1271 341.7 1274.8 341.7 1274.8 342.9 1278.6 342.9 1278.6 336.4 1282.4 336.4 1282.4 334.8 1286.2 334.8 1286.2 328.4 1290 328.4 1290 326.6 1293.8 326.6 1293.8 324.3 1297.6 324.3 1297.6 317.5 1301.4 317.5 1301.4 317 1305.2 317 1305.2 307.4 1309 307.4 1309 304.8 1312.8 304.8 1312.8 299.9 1316.6 299.9 1316.6 293.6 1320.4 293.6 1320.4 291.3 1324.2 291.3 1324.2 275.4 1328 275.4 1328 274.5 1331.8 274.5 1331.8 264.6 1335.6 264.6 1335.6 262.1 1339.4 262.1 1339.4 267.5 1343.2 267.5 1343.2 258.8 1347 258.8 1347 260.9 1350.8 260.9 1350.8 260.7 1354.6 260.7 1354.6 250.5 1358.4 250.5 1358.4 255.1 1362.2 255.1 1362.2 246.6 1366 246.6 1366 245.5 1369.8 245.5 1369.8 238.5 1373.6 238.5 1373.6 241 1377.4 241 1377.4 238.9 1381.2 238.9 1381.2 240.3 1385 240.3 1385 232.1 1388.8 232.1 1388.8 237.6 1392.6 237.6 1392.6 230.2 1396.4 230.2 1396.4 226.1 1400.2 226.1 1400.2 221.2 1404 221.2 1404 222.4 1407.8 222.4 1407.8 219.1 1411.6 219.1 1411.6 223.5 1415.4 223.5 1415.4 217.4 1419.2 217.4 1419.2 214.7 1423 214.7 1423 211.4 1426.8 211.4 1426.8 215.7 1430.6 215.7 1430.6 213.8 1434.4 213.8 1434.4 203.2 1438.2 203.2 1438.2 212.5 1442 212.5 1442 207 1445.8 207 1445.8 208.4 1449.6 208.4 1449.6 211 1453.4 211 1453.4 222.1 1457.2 222.1 1457.2 224.4 1461 224.4 1461 233.7 1464.8 233.7 1464.8 235.7 1468.6 235.7 1468.6 234.4 1472.4 234.4 1472.4 229.5 1476.2 229.5 1476.2 222.2 1480 222.2 1480 218.5 1483.8 218.5 1483.8 215.7 1487.6 215.7 1487.6 217.1 1491.4 217.1 1491.4 213.6 1495.2 213.6 1495.2 212.2 1499 212.2 1499 209.4 1502.8 209.4 1502.8 204.4 1506.6 204.4 1506.6 205.7 1510.4 205.7 1510.4 203.5 1514.2 203.5 1514.2 199.9 1518 199.9 1518 196.8 1521.8 196.8 1521.8 194.7 1525.6 194.7 1525.6 195.2 1529.4 195.2 1529.4 197 1533.2 197 1533.2 195.2 1537 195.2 1537 194.5 1540.8 194.5 1540.8 190.9 1544.6 190.9 1544.6 189 1548.4 189 1548.4 194.8 1552.2 194.8 1552.2 192.3 1556 192.3 1556 191.5 1559.8 191.5 1559.8 186.7 1563.6 186.7 1563.6 186.9 1567.4 186.9 1567.4 187.5 1571.2 187.5 1571.2 188.7 1575 188.7 1575 189.1 1578.8 189.1 1578.8 192.5 1582.6 192.5 1582.6 187.8 1586.4 187.8 1586.4 192.1 1590.2 192.1 1590.2 192.5 1594 192.5 1594 189.2 1597.8 189.2 1597.8 190.7 1601.6 190.7 1601.6 181.5 1605.4 181.5 1605.4 187.3 1609.2 187.3 1609.2 180.7 1613 180.7 1613 180.7 1616.8 180.7 1616.8 191 1620.6 191 1620.6 199.5 1624.4 199.5 1624.4 224.7 1628.2 224.7 1628.2 250.6 1632 250.6 1632 277 1635.8 277 1635.8 294.4 1639.6 294.4 1639.6 302.4 1643.4 302.4 1643.4 302.5 1647.2 302.5 1647.2 298.5 1651 298.5 1651 285.1 1654.8 285.1 1654.8 274.8 1658.6 274.8 1658.6 269.4 1662.4 269.4 1662.4 262.3 1666.2 262.3 1666.2 260.3 1670 260.3 1670 253 1673.8 253 1673.8 248.8 1677.6 248.8 1677.6 243.8 1681.4 243.8 1681.4 231.2 1685.2 231.2 1685.2 220 1689 220 1689 216.7 1692.8 216.7 1692.8 216.2 1696.6 216.2 1696.6 209.5 1700.4 209.5 1700.4 207.6 1704.2 207.6 1704.2 209.3 1708 209.3 1708 206.1 1711.8 206.1 1711.8 205.1 1715.6 205.1 1715.6 203 1719.4 203 1719.4 205.4 1723.2 205.4 1723.2 210.1 1727 210.1 1727 210.4 1730.8 210.4 1730.8 213 1734.6 213 1734.6 210.3 1738.4 210.3 1738.4 216.7 1742.2 216.7 1742.2 218.6 1746 218.6 1746 221.3 1749.8 221.3 1749.8 226.4 1753.6 226.4 1753.6 225.2 1757.4 225.2 1757.4 219 1761.2 219 1761.2 214 1765 214 1765 219.2 1768.8 219.2 1768.8 222 1772.6 222 1772.6 226 1776.4 226 1776.4 232.5 1780.2 232.5 1780.2 235.2 1784 235.2 1784 238.8 1787.8 238.8 1787.8 242.9 1791.6 242.9 1791.6 246 1795.4 246 1795.4 261.4 1799.2 261.4 1799.2 272.4 1803 272.4 1803 278.1 1806.8 278.1 1806.8 279.4 1807 279.4 1807 299.4 1806.8 299.4 1806.8 299.7 1803 299.7 1803 293.9 1799.2 293.9 1799.2 287.3 1795.4 287.3 1795.4 278.4 1791.6 278.4 1791.6 267.8 1787.8 267.8 1787.8 266.9 1784 266.9 1784 260.7 1780.2 260.7 1780.2 260.9 1776.4 260.9 1776.4 256 1772.6 256 1772.6 252.4 1768.8 252.4 1768.8 249.1 1765 249.1 1765 245.8 1761.2 245.8 1761.2 252 1757.4 252 1757.4 252.8 1753.6 252.8 1753.6 250.9 1749.8 250.9 1749.8 253.7 1746 253.7 1746 250.1 1742.2 250.1 1742.2 248.8 1738.4 248.8 1738.4 252.8 1734.6 252.8 1734.6 248.4 1730.8 248.4 1730.8 242.1 1727 242.1 1727 243.9 1723.2 243.9 1723.2 239.3 1719.4 239.3 1719.4 242 1715.6 242 1715.6 234.8 1711.8 234.8 1711.8 232.9 1708 232.9 1708 243 1704.2 243 1704.2 235.8 1700.4 235.8 1700.4 241.6 1696.6 241.6 1696.6 242.7 1692.8 242.7 1692.8 246.7 1689 246.7 1689 257.4 1685.2 257.4 1685.2 261.1 1681.4 261.1 1681.4 263.4 1677.6 263.4 1677.6 273.3 1673.8 273.3 1673.8 284.4 1670 284.4 1670 287.7 1666.2 287.7 1666.2 297.1 1662.4 297.1 1662.4 307.4 1658.6 307.4 1658.6 311.9 1654.8 311.9 1654.8 328.2 1651 328.2 1651 324.4 1647.2 324.4 1647.2 325.9 1643.4 325.9 1643.4 326.6 1639.6 326.6 1639.6 321.5 1635.8 321.5 1635.8 306.4 1632 306.4 1632 286.3 1628.2 286.3 1628.2 262.5 1624.4 262.5 1624.4 238 1620.6 238 1620.6 221.3 1616.8 221.3 1616.8 223.6 1613 223.6 1613 219 1609.2 219 1609.2 215.6 1605.4 215.6 1605.4 216.8 1601.6 216.8 1601.6 212.4 1597.8 212.4 1597.8 215.2 1594 215.2 1594 215.2 1590.2 215.2 1590.2 220.2 1586.4 220.2 1586.4 221.2 1582.6 221.2 1582.6 220.6 1578.8 220.6 1578.8 214.7 1575 214.7 1575 216.5 1571.2 216.5 1571.2 211.9 1567.4 211.9 1567.4 212.7 1563.6 212.7 1563.6 213.7 1559.8 213.7 1559.8 215.1 1556 215.1 1556 217.9 1552.2 217.9 1552.2 219.4 1548.4 219.4 1548.4 218.5 1544.6 218.5 1544.6 222.2 1540.8 222.2 1540.8 220 1537 220 1537 220.9 1533.2 220.9 1533.2 220.6 1529.4 220.6 1529.4 224.4 1525.6 224.4 1525.6 224 1521.8 224 1521.8 228.6 1518 228.6 1518 228.7 1514.2 228.7 1514.2 229.9 1510.4 229.9 1510.4 234.1 1506.6 234.1 1506.6 230.7 1502.8 230.7 1502.8 234.9 1499 234.9 1499 235.2 1495.2 235.2 1495.2 240.2 1491.4 240.2 1491.4 246.6 1487.6 246.6 1487.6 251.5 1483.8 251.5 1483.8 255.9 1480 255.9 1480 251.3 1476.2 251.3 1476.2 257.7 1472.4 257.7 1472.4 259.3 1468.6 259.3 1468.6 258.2 1464.8 258.2 1464.8 269.6 1461 269.6 1461 255.7 1457.2 255.7 1457.2 247.7 1453.4 247.7 1453.4 242.2 1449.6 242.2 1449.6 236.5 1445.8 236.5 1445.8 236.4 1442 236.4 1442 237.5 1438.2 237.5 1438.2 240.2 1434.4 240.2 1434.4 242 1430.6 242 1430.6 246.1 1426.8 246.1 1426.8 247.2 1423 247.2 1423 245.2 1419.2 245.2 1419.2 245.1 1415.4 245.1 1415.4 245 1411.6 245 1411.6 245.4 1407.8 245.4 1407.8 248.1 1404 248.1 1404 252.6 1400.2 252.6 1400.2 259.3 1396.4 259.3 1396.4 261.2 1392.6 261.2 1392.6 268 1388.8 268 1388.8 269 1385 269 1385 275.5 1381.2 275.5 1381.2 266.9 1377.4 266.9 1377.4 271.3 1373.6 271.3 1373.6 275.5 1369.8 275.5 1369.8 278.5 1366 278.5 1366 276.7 1362.2 276.7 1362.2 280.6 1358.4 280.6 1358.4 287.8 1354.6 287.8 1354.6 294 1350.8 294 1350.8 296.2 1347 296.2 1347 296.9 1343.2 296.9 1343.2 299.4 1339.4 299.4 1339.4 302.4 1335.6 302.4 1335.6 303.5 1331.8 303.5 1331.8 305.6 1328 305.6 1328 313.8 1324.2 313.8 1324.2 313.9 1320.4 313.9 1320.4 322.4 1316.6 322.4 1316.6 326.9 1312.8 326.9 1312.8 328 1309 328 1309 337.1 1305.2 337.1 1305.2 337.7 1301.4 337.7 1301.4 342 1297.6 342 1297.6 345.6 1293.8 345.6 1293.8 351 1290 351 1290 354.4 1286.2 354.4 1286.2 356.5 1282.4 356.5 1282.4 367.5 1278.6 367.5 1278.6 369.4 1274.8 369.4 1274.8 378.1 1271 378.1 1271 376.5 1267.2 376.5 1267.2 384.3 1263.4 384.3 1263.4 387 1259.6 387 1259.6 391 1255.8 391 1255.8 395.1 1252 395.1 1252 397 1248.2 397 1248.2 406.1 1244.4 406.1 1244.4 405.2 1240.6 405.2 1240.6 418.6 1236.8 418.6 1236.8 423.9 1233 423.9 1233 426 1229.2 426 1229.2 427.9 1225.4 427.9 1225.4 436.7 1221.6 436.7 1221.6 441.6 1217.8 441.6 1217.8 446.7 1214 446.7 1214 453.5 1210.2 453.5 1210.2 454.8 1206.4 454.8 1206.4 461.7 1202.6 461.7 1202.6 463.3 1198.8 463.3 1198.8 470.7 1195 470.7 1195 477.7 1191.2 477.7 1191.2 493.1 1187.4 493.1 1187.4 484.8 1183.6 484.8 1183.6 485.7 1179.8 485.7 1179.8 493.9 1176 493.9 1176 494.8 1172.2 494.8 1172.2 505.6 1168.4 505.6 1168.4 508.7 1164.6 508.7 1164.6 515.2 1160.8 515.2 1160.8 519 1157 519 1157 517.3 1153.2 517.3 1153.2 524.8 1149.4 524.8 1149.4 529.2 1145.6 529.2 1145.6 533.4 1141.8 533.4 1141.8 549.5 1138 549.5 1138 550.3 1134.2 550.3 1134.2 554.5 1130.4 554.5 1130.4 566.8 1126.6 566.8 1126.6 571.2 1122.8 571.2 1122.8 570.2 1119 570.2 1119 576.3 1115.2 576.3 1115.2 580.7 1111.4 580.7ZM1713.3 192H1717.3V205H1713.3ZM1721 194H1725V209.9H1721ZM1732 246.6H1738V252H1732ZM1758 247.6H1762V250H1758ZM1775 210H1779V231.7H1775ZM1148 523.3H1152V540H1148ZM1286 318H1290V334.1H1286ZM1408 246.4H1412V258H1408ZM1468 259H1472V270H1468ZM1201.5 460.5H1204.5V475H1201.5ZM1541 189H1545V193H1541Z" fill="#ff0000"/>
<g style="mix-blend-mode:multiply"><rect x="1107.4" y="108" width="8.4" height="509.6" fill="#939393"/><rect x="1111.4" y="104" width="699.4" height="8" fill="#939393"/><rect x="1803" y="104" width="7.8" height="509.6" fill="#939393"/><rect x="1111.4" y="610.1" width="695.4" height="7.5" fill="#939393"/></g>
<g><rect x="1144.2" y="108" width="4" height="4" fill="#222"/><rect x="1144.2" y="112" width="4" height="3.7" fill="#5e5e5e"/><rect x="1144.2" y="610.1" width="4" height="3.7" fill="#2a2a2a"/><rect x="1144.2" y="606.3" width="4" height="3.8" fill="#5e5e5e"/><rect x="1318.1" y="108" width="4" height="4" fill="#222"/><rect x="1318.1" y="112" width="4" height="3.7" fill="#5e5e5e"/><rect x="1318.1" y="610.1" width="4" height="3.7" fill="#2a2a2a"/><rect x="1318.1" y="606.3" width="4" height="3.8" fill="#5e5e5e"/><rect x="1492" y="108" width="4" height="4" fill="#222"/><rect x="1492" y="112" width="4" height="3.7" fill="#5e5e5e"/><rect x="1492" y="610.1" width="4" height="3.7" fill="#2a2a2a"/><rect x="1492" y="606.3" width="4" height="3.8" fill="#5e5e5e"/><rect x="1665.9" y="108" width="4" height="4" fill="#222"/><rect x="1665.9" y="112" width="4" height="3.7" fill="#5e5e5e"/><rect x="1665.9" y="610.1" width="4" height="3.7" fill="#2a2a2a"/><rect x="1665.9" y="606.3" width="4" height="3.8" fill="#5e5e5e"/><rect x="1111.4" y="441.6" width="4.4" height="7.2" fill="#555"/><rect x="1115.8" y="441.6" width="3.8" height="7.2" fill="#aaa"/><rect x="1803" y="441.6" width="3.8" height="7.2" fill="#555"/><rect x="1799.2" y="441.6" width="3.8" height="7.2" fill="#aaa"/><rect x="1111.4" y="273" width="4.4" height="7.2" fill="#555"/><rect x="1115.8" y="273" width="3.8" height="7.2" fill="#aaa"/><rect x="1803" y="273" width="3.8" height="7.2" fill="#555"/><rect x="1799.2" y="273" width="3.8" height="7.2" fill="#aaa"/><rect x="1111.4" y="108" width="4.4" height="4" fill="#5c5c5c"/><rect x="1803" y="108" width="3.8" height="4" fill="#5c5c5c"/><rect x="1111.4" y="610.1" width="4.4" height="3.5" fill="#5c5c5c"/><rect x="1803" y="610.1" width="3.8" height="3.5" fill="#5c5c5c"/></g>
<rect x="1384.2" y="100.3" width="430.3" height="76.8" fill="#ffffff"/>
<g style="mix-blend-mode:multiply"><rect x="1384.2" y="100.3" width="430.3" height="7.6" fill="#939393"/><rect x="1384.2" y="177.1" width="430.3" height="7.6" fill="#939393"/><rect x="1384.2" y="107.9" width="7.8" height="69.2" fill="#939393"/><rect x="1806.9" y="107.9" width="7.6" height="69.2" fill="#939393"/></g>
<rect x="1418.5" y="138.8" width="166.9" height="7" fill="#ff8080"/>
<path clip-path="url(#clipc)" d="M196.4 1276.1 200.2 1276.1 200.2 1266.1 204 1266.1 204 1259.4 207.8 1259.4 207.8 1255.5 211.6 1255.5 211.6 1249.9 215.4 1249.9 215.4 1245.1 219.2 1245.1 219.2 1235 223 1235 223 1234.1 226.8 1234.1 226.8 1226.6 230.6 1226.6 230.6 1224.5 234.4 1224.5 234.4 1217.5 238.2 1217.5 238.2 1214 242 1214 242 1206.6 245.8 1206.6 245.8 1201.3 249.6 1201.3 249.6 1195.6 253.4 1195.6 253.4 1190.4 257.2 1190.4 257.2 1187.2 261 1187.2 261 1181.9 264.8 1181.9 264.8 1179.1 268.6 1179.1 268.6 1174.1 272.4 1174.1 272.4 1165.7 276.2 1165.7 276.2 1162.9 280 1162.9 280 1161.3 283.8 1161.3 283.8 1157 287.6 1157 287.6 1152.3 291.4 1152.3 291.4 1148.5 295.2 1148.5 295.2 1142.2 299 1142.2 299 1137.1 302.8 1137.1 302.8 1133.3 306.6 1133.3 306.6 1128.6 310.4 1128.6 310.4 1120.4 314.2 1120.4 314.2 1117.5 318 1117.5 318 1113.2 321.8 1113.2 321.8 1106.7 325.6 1106.7 325.6 1103.7 329.4 1103.7 329.4 1099.1 333.2 1099.1 333.2 1093.9 337 1093.9 337 1090.6 340.8 1090.6 340.8 1080.8 344.6 1080.8 344.6 1078.2 348.4 1078.2 348.4 1074.8 352.2 1074.8 352.2 1070.6 356 1070.6 356 1066.5 359.8 1066.5 359.8 1059.3 363.6 1059.3 363.6 1059.3 367.4 1059.3 367.4 1053.6 371.2 1053.6 371.2 1051.7 375 1051.7 375 1047.5 378.8 1047.5 378.8 1041.1 382.6 1041.1 382.6 1037.9 386.4 1037.9 386.4 1030.6 390.2 1030.6 390.2 1029.3 394 1029.3 394 1024.1 397.8 1024.1 397.8 1017.9 401.6 1017.9 401.6 1015.8 405.4 1015.8 405.4 1013 409.2 1013 409.2 1007.1 413 1007.1 413 1002.7 416.8 1002.7 416.8 1002 420.6 1002 420.6 994.5 424.4 994.5 424.4 994.3 428.2 994.3 428.2 991 432 991 432 985.1 435.8 985.1 435.8 985.1 439.6 985.1 439.6 981.5 443.4 981.5 443.4 975.5 447.2 975.5 447.2 974.8 451 974.8 451 970.6 454.8 970.6 454.8 967.8 458.6 967.8 458.6 968.4 462.4 968.4 462.4 965.7 466.2 965.7 466.2 962.1 470 962.1 470 958.4 473.8 958.4 473.8 958.2 477.6 958.2 477.6 955.2 481.4 955.2 481.4 952 485.2 952 485.2 950.8 489 950.8 489 945 492.8 945 492.8 943.8 496.6 943.8 496.6 944.6 500.4 944.6 500.4 943.3 504.2 943.3 504.2 942.1 508 942.1 508 942.1 511.8 942.1 511.8 939.2 515.6 939.2 515.6 937.8 519.4 937.8 519.4 937.2 523.2 937.2 523.2 937.1 527 937.1 527 936.6 530.8 936.6 530.8 935.6 534.6 935.6 534.6 938.3 538.4 938.3 538.4 940.4 542.2 940.4 542.2 949.6 546 949.6 546 956 549.8 956 549.8 960 553.6 960 553.6 957.9 557.4 957.9 557.4 958.7 561.2 958.7 561.2 954.2 565 954.2 565 953.2 568.8 953.2 568.8 948.7 572.6 948.7 572.6 944.1 576.4 944.1 576.4 940 580.2 940 580.2 938.4 584 938.4 584 935.9 587.8 935.9 587.8 934.1 591.6 934.1 591.6 933.3 595.4 933.3 595.4 930.3 599.2 930.3 599.2 926.8 603 926.8 603 924.2 606.8 924.2 606.8 924.1 610.6 924.1 610.6 923 614.4 923 614.4 921.7 618.2 921.7 618.2 918.9 622 918.9 622 918.5 625.8 918.5 625.8 915.2 629.6 915.2 629.6 913 633.4 913 633.4 917.7 637.2 917.7 637.2 916.1 641 916.1 641 913.5 644.8 913.5 644.8 914.7 648.6 914.7 648.6 914.1 652.4 914.1 652.4 912.8 656.2 912.8 656.2 912.7 660 912.7 660 911.7 663.8 911.7 663.8 914.1 667.6 914.1 667.6 914.3 671.4 914.3 671.4 913.9 675.2 913.9 675.2 916.6 679 916.6 679 916.2 682.8 916.2 682.8 912.7 686.6 912.7 686.6 913.1 690.4 913.1 690.4 913.1 694.2 913.1 694.2 913.7 698 913.7 698 915.5 701.8 915.5 701.8 917.9 705.6 917.9 705.6 928.6 709.4 928.6 709.4 939.6 713.2 939.6 713.2 961.4 717 961.4 717 988 720.8 988 720.8 1006.7 724.6 1006.7 724.6 1028.1 728.4 1028.1 728.4 1025.3 732.2 1025.3 732.2 1017.4 736 1017.4 736 1010.6 739.8 1010.6 739.8 1005.8 743.6 1005.8 743.6 997.2 747.4 997.2 747.4 983.7 751.2 983.7 751.2 979.5 755 979.5 755 972.1 758.8 972.1 758.8 966.8 762.6 966.8 762.6 961.5 766.4 961.5 766.4 954.1 770.2 954.1 770.2 946.8 774 946.8 774 942.7 777.8 942.7 777.8 939.4 781.6 939.4 781.6 937.2 785.4 937.2 785.4 931.8 789.2 931.8 789.2 931.8 793 931.8 793 928.1 796.8 928.1 796.8 929.1 800.6 929.1 800.6 927.8 804.4 927.8 804.4 926.9 808.2 926.9 808.2 929.2 812 929.2 812 931.5 815.8 931.5 815.8 933.9 819.6 933.9 819.6 936 823.4 936 823.4 938.7 827.2 938.7 827.2 941.6 831 941.6 831 942 834.8 942 834.8 942.1 838.6 942.1 838.6 942.1 842.4 942.1 842.4 945.4 846.2 945.4 846.2 945.8 850 945.8 850 947.3 853.8 947.3 853.8 952.3 857.6 952.3 857.6 954.9 861.4 954.9 861.4 959.5 865.2 959.5 865.2 962.5 869 962.5 869 969.4 872.8 969.4 872.8 975.3 876.6 975.3 876.6 979.7 880.4 979.7 880.4 985.3 884.2 985.3 884.2 991.1 888 991.1 888 998.9 891.8 998.9 891.8 1005.5 893.7 1005.5 893.7 1011.6 891.8 1011.6 891.8 1011.6 888 1011.6 888 1003.9 884.2 1003.9 884.2 997.9 880.4 997.9 880.4 990.8 876.6 990.8 876.6 986.3 872.8 986.3 872.8 980.3 869 980.3 869 975.9 865.2 975.9 865.2 969.2 861.4 969.2 861.4 965.4 857.6 965.4 857.6 962.5 853.8 962.5 853.8 957.8 850 957.8 850 955.9 846.2 955.9 846.2 954.4 842.4 954.4 842.4 954.1 838.6 954.1 838.6 953.4 834.8 953.4 834.8 954.8 831 954.8 831 952.3 827.2 952.3 827.2 949.3 823.4 949.3 823.4 947.9 819.6 947.9 819.6 945.7 815.8 945.7 815.8 941.5 812 941.5 812 939.5 808.2 939.5 808.2 938.7 804.4 938.7 804.4 938.5 800.6 938.5 800.6 939.6 796.8 939.6 796.8 941 793 941 793 941.7 789.2 941.7 789.2 943 785.4 943 785.4 945 781.6 945 781.6 948.9 777.8 948.9 777.8 954 774 954 774 962 770.2 962 770.2 966.8 766.4 966.8 766.4 972.7 762.6 972.7 762.6 980 758.8 980 758.8 984 755 984 755 992.8 751.2 992.8 751.2 1002.1 747.4 1002.1 747.4 1014.6 743.6 1014.6 743.6 1020 739.8 1020 739.8 1025.8 736 1025.8 736 1032.8 732.2 1032.8 732.2 1035.5 728.4 1035.5 728.4 1037.8 724.6 1037.8 724.6 1035.2 720.8 1035.2 720.8 1016 717 1016 717 992.7 713.2 992.7 713.2 970.6 709.4 970.6 709.4 947.2 705.6 947.2 705.6 934.5 701.8 934.5 701.8 925.4 698 925.4 698 925.6 694.2 925.6 694.2 923 690.4 923 690.4 926 686.6 926 686.6 924.7 682.8 924.7 682.8 926.5 679 926.5 679 925.5 675.2 925.5 675.2 923.6 671.4 923.6 671.4 923.2 667.6 923.2 667.6 924.4 663.8 924.4 663.8 925.8 660 925.8 660 923.8 656.2 923.8 656.2 923.5 652.4 923.5 652.4 926.2 648.6 926.2 648.6 923.2 644.8 923.2 644.8 923.6 641 923.6 641 926.8 637.2 926.8 637.2 925.6 633.4 925.6 633.4 925.8 629.6 925.8 629.6 928.1 625.8 928.1 625.8 928 622 928 622 928.4 618.2 928.4 618.2 931.8 614.4 931.8 614.4 932.8 610.6 932.8 610.6 933.5 606.8 933.5 606.8 937.5 603 937.5 603 938 599.2 938 599.2 940.6 595.4 940.6 595.4 941.8 591.6 941.8 591.6 943.7 587.8 943.7 587.8 944.7 584 944.7 584 950.6 580.2 950.6 580.2 953.6 576.4 953.6 576.4 958 572.6 958 572.6 958.4 568.8 958.4 568.8 964.8 565 964.8 565 967 561.2 967 561.2 967.3 557.4 967.3 557.4 967.6 553.6 967.6 553.6 968.2 549.8 968.2 549.8 967.9 546 967.9 546 964.5 542.2 964.5 542.2 955.1 538.4 955.1 538.4 946.3 534.6 946.3 534.6 946.3 530.8 946.3 530.8 947.2 527 947.2 527 946.4 523.2 946.4 523.2 947.7 519.4 947.7 519.4 948.1 515.6 948.1 515.6 949.6 511.8 949.6 511.8 950.9 508 950.9 508 953.6 504.2 953.6 504.2 953.6 500.4 953.6 500.4 954.1 496.6 954.1 496.6 956.2 492.8 956.2 492.8 958.2 489 958.2 489 960.1 485.2 960.1 485.2 962.4 481.4 962.4 481.4 965.7 477.6 965.7 477.6 968.8 473.8 968.8 473.8 970 470 970 470 972.1 466.2 972.1 466.2 975.2 462.4 975.2 462.4 980.5 458.6 980.5 458.6 982.9 454.8 982.9 454.8 982.7 451 982.7 451 984.3 447.2 984.3 447.2 989.7 443.4 989.7 443.4 990.9 439.6 990.9 439.6 994.5 435.8 994.5 435.8 999.4 432 999.4 432 1000.2 428.2 1000.2 428.2 1004.9 424.4 1004.9 424.4 1009.7 420.6 1009.7 420.6 1012.8 416.8 1012.8 416.8 1015.1 413 1015.1 413 1020.4 409.2 1020.4 409.2 1023.7 405.4 1023.7 405.4 1025 401.6 1025 401.6 1030.6 397.8 1030.6 397.8 1036 394 1036 394 1038.4 390.2 1038.4 390.2 1046.8 386.4 1046.8 386.4 1048.3 382.6 1048.3 382.6 1056.5 378.8 1056.5 378.8 1057.3 375 1057.3 375 1059.7 371.2 1059.7 371.2 1067.1 367.4 1067.1 367.4 1069.9 363.6 1069.9 363.6 1077.8 359.8 1077.8 359.8 1077.8 356 1077.8 356 1082 352.2 1082 352.2 1084.5 348.4 1084.5 348.4 1089.1 344.6 1089.1 344.6 1095.1 340.8 1095.1 340.8 1101.3 337 1101.3 337 1105 333.2 1105 333.2 1110.9 329.4 1110.9 329.4 1115 325.6 1115 325.6 1120.4 321.8 1120.4 321.8 1124.8 318 1124.8 318 1130.2 314.2 1130.2 314.2 1137.1 310.4 1137.1 310.4 1139.9 306.6 1139.9 306.6 1146.8 302.8 1146.8 302.8 1150.9 299 1150.9 299 1154.4 295.2 1154.4 295.2 1159.7 291.4 1159.7 291.4 1162.7 287.6 1162.7 287.6 1168.2 283.8 1168.2 283.8 1170.3 280 1170.3 280 1178.1 276.2 1178.1 276.2 1179.9 272.4 1179.9 272.4 1184.3 268.6 1184.3 268.6 1188.2 264.8 1188.2 264.8 1195.7 261 1195.7 261 1200.9 257.2 1200.9 257.2 1205.7 253.4 1205.7 253.4 1210.7 249.6 1210.7 249.6 1213.8 245.8 1213.8 245.8 1221.6 242 1221.6 242 1223.9 238.2 1223.9 238.2 1231 234.4 1231 234.4 1234.1 230.6 1234.1 230.6 1240 226.8 1240 226.8 1247.1 223 1247.1 223 1250.5 219.2 1250.5 219.2 1257.2 215.4 1257.2 215.4 1260.3 211.6 1260.3 211.6 1267 207.8 1267 207.8 1272.5 204 1272.5 204 1282.6 200.2 1282.6 200.2 1287.8 196.4 1287.8Z" fill="#9999ff" stroke="#9999ff" stroke-width="3.0" stroke-linejoin="miter"/>
<path clip-path="url(#clipc)" d="M196.4 1276.1 200.2 1276.1 200.2 1266.1 204 1266.1 204 1259.4 207.8 1259.4 207.8 1255.5 211.6 1255.5 211.6 1249.9 215.4 1249.9 215.4 1245.1 219.2 1245.1 219.2 1235 223 1235 223 1234.1 226.8 1234.1 226.8 1226.6 230.6 1226.6 230.6 1224.5 234.4 1224.5 234.4 1217.5 238.2 1217.5 238.2 1214 242 1214 242 1206.6 245.8 1206.6 245.8 1201.3 249.6 1201.3 249.6 1195.6 253.4 1195.6 253.4 1190.4 257.2 1190.4 257.2 1187.2 261 1187.2 261 1181.9 264.8 1181.9 264.8 1179.1 268.6 1179.1 268.6 1174.1 272.4 1174.1 272.4 1165.7 276.2 1165.7 276.2 1162.9 280 1162.9 280 1161.3 283.8 1161.3 283.8 1157 287.6 1157 287.6 1152.3 291.4 1152.3 291.4 1148.5 295.2 1148.5 295.2 1142.2 299 1142.2 299 1137.1 302.8 1137.1 302.8 1133.3 306.6 1133.3 306.6 1128.6 310.4 1128.6 310.4 1120.4 314.2 1120.4 314.2 1117.5 318 1117.5 318 1113.2 321.8 1113.2 321.8 1106.7 325.6 1106.7 325.6 1103.7 329.4 1103.7 329.4 1099.1 333.2 1099.1 333.2 1093.9 337 1093.9 337 1090.6 340.8 1090.6 340.8 1080.8 344.6 1080.8 344.6 1078.2 348.4 1078.2 348.4 1074.8 352.2 1074.8 352.2 1070.6 356 1070.6 356 1066.5 359.8 1066.5 359.8 1059.3 363.6 1059.3 363.6 1059.3 367.4 1059.3 367.4 1053.6 371.2 1053.6 371.2 1051.7 375 1051.7 375 1047.5 378.8 1047.5 378.8 1041.1 382.6 1041.1 382.6 1037.9 386.4 1037.9 386.4 1030.6 390.2 1030.6 390.2 1029.3 394 1029.3 394 1024.1 397.8 1024.1 397.8 1017.9 401.6 1017.9 401.6 1015.8 405.4 1015.8 405.4 1013 409.2 1013 409.2 1007.1 413 1007.1 413 1002.7 416.8 1002.7 416.8 1002 420.6 1002 420.6 994.5 424.4 994.5 424.4 994.3 428.2 994.3 428.2 991 432 991 432 985.1 435.8 985.1 435.8 985.1 439.6 985.1 439.6 981.5 443.4 981.5 443.4 975.5 447.2 975.5 447.2 974.8 451 974.8 451 970.6 454.8 970.6 454.8 967.8 458.6 967.8 458.6 968.4 462.4 968.4 462.4 965.7 466.2 965.7 466.2 962.1 470 962.1 470 958.4 473.8 958.4 473.8 958.2 477.6 958.2 477.6 955.2 481.4 955.2 481.4 952 485.2 952 485.2 950.8 489 950.8 489 945 492.8 945 492.8 943.8 496.6 943.8 496.6 944.6 500.4 944.6 500.4 943.3 504.2 943.3 504.2 942.1 508 942.1 508 942.1 511.8 942.1 511.8 939.2 515.6 939.2 515.6 937.8 519.4 937.8 519.4 937.2 523.2 937.2 523.2 937.1 527 937.1 527 936.6 530.8 936.6 530.8 935.6 534.6 935.6 534.6 938.3 538.4 938.3 538.4 940.4 542.2 940.4 542.2 949.6 546 949.6 546 956 549.8 956 549.8 960 553.6 960 553.6 957.9 557.4 957.9 557.4 958.7 561.2 958.7 561.2 954.2 565 954.2 565 953.2 568.8 953.2 568.8 948.7 572.6 948.7 572.6 944.1 576.4 944.1 576.4 940 580.2 940 580.2 938.4 584 938.4 584 935.9 587.8 935.9 587.8 934.1 591.6 934.1 591.6 933.3 595.4 933.3 595.4 930.3 599.2 930.3 599.2 926.8 603 926.8 603 924.2 606.8 924.2 606.8 924.1 610.6 924.1 610.6 923 614.4 923 614.4 921.7 618.2 921.7 618.2 918.9 622 918.9 622 918.5 625.8 918.5 625.8 915.2 629.6 915.2 629.6 913 633.4 913 633.4 917.7 637.2 917.7 637.2 916.1 641 916.1 641 913.5 644.8 913.5 644.8 914.7 648.6 914.7 648.6 914.1 652.4 914.1 652.4 912.8 656.2 912.8 656.2 912.7 660 912.7 660 911.7 663.8 911.7 663.8 914.1 667.6 914.1 667.6 914.3 671.4 914.3 671.4 913.9 675.2 913.9 675.2 916.6 679 916.6 679 916.2 682.8 916.2 682.8 912.7 686.6 912.7 686.6 913.1 690.4 913.1 690.4 913.1 694.2 913.1 694.2 913.7 698 913.7 698 915.5 701.8 915.5 701.8 917.9 705.6 917.9 705.6 928.6 709.4 928.6 709.4 939.6 713.2 939.6 713.2 961.4 717 961.4 717 988 720.8 988 720.8 1006.7 724.6 1006.7 724.6 1028.1 728.4 1028.1 728.4 1025.3 732.2 1025.3 732.2 1017.4 736 1017.4 736 1010.6 739.8 1010.6 739.8 1005.8 743.6 1005.8 743.6 997.2 747.4 997.2 747.4 983.7 751.2 983.7 751.2 979.5 755 979.5 755 972.1 758.8 972.1 758.8 966.8 762.6 966.8 762.6 961.5 766.4 961.5 766.4 954.1 770.2 954.1 770.2 946.8 774 946.8 774 942.7 777.8 942.7 777.8 939.4 781.6 939.4 781.6 937.2 785.4 937.2 785.4 931.8 789.2 931.8 789.2 931.8 793 931.8 793 928.1 796.8 928.1 796.8 929.1 800.6 929.1 800.6 927.8 804.4 927.8 804.4 926.9 808.2 926.9 808.2 929.2 812 929.2 812 931.5 815.8 931.5 815.8 933.9 819.6 933.9 819.6 936 823.4 936 823.4 938.7 827.2 938.7 827.2 941.6 831 941.6 831 942 834.8 942 834.8 942.1 838.6 942.1 838.6 942.1 842.4 942.1 842.4 945.4 846.2 945.4 846.2 945.8 850 945.8 850 947.3 853.8 947.3 853.8 952.3 857.6 952.3 857.6 954.9 861.4 954.9 861.4 959.5 865.2 959.5 865.2 962.5 869 962.5 869 969.4 872.8 969.4 872.8 975.3 876.6 975.3 876.6 979.7 880.4 979.7 880.4 985.3 884.2 985.3 884.2 991.1 888 991.1 888 998.9 891.8 998.9 891.8 1005.5 893.7 1005.5 893.7 1011.6 891.8 1011.6 891.8 1011.6 888 1011.6 888 1003.9 884.2 1003.9 884.2 997.9 880.4 997.9 880.4 990.8 876.6 990.8 876.6 986.3 872.8 986.3 872.8 980.3 869 980.3 869 975.9 865.2 975.9 865.2 969.2 861.4 969.2 861.4 965.4 857.6 965.4 857.6 962.5 853.8 962.5 853.8 957.8 850 957.8 850 955.9 846.2 955.9 846.2 954.4 842.4 954.4 842.4 954.1 838.6 954.1 838.6 953.4 834.8 953.4 834.8 954.8 831 954.8 831 952.3 827.2 952.3 827.2 949.3 823.4 949.3 823.4 947.9 819.6 947.9 819.6 945.7 815.8 945.7 815.8 941.5 812 941.5 812 939.5 808.2 939.5 808.2 938.7 804.4 938.7 804.4 938.5 800.6 938.5 800.6 939.6 796.8 939.6 796.8 941 793 941 793 941.7 789.2 941.7 789.2 943 785.4 943 785.4 945 781.6 945 781.6 948.9 777.8 948.9 777.8 954 774 954 774 962 770.2 962 770.2 966.8 766.4 966.8 766.4 972.7 762.6 972.7 762.6 980 758.8 980 758.8 984 755 984 755 992.8 751.2 992.8 751.2 1002.1 747.4 1002.1 747.4 1014.6 743.6 1014.6 743.6 1020 739.8 1020 739.8 1025.8 736 1025.8 736 1032.8 732.2 1032.8 732.2 1035.5 728.4 1035.5 728.4 1037.8 724.6 1037.8 724.6 1035.2 720.8 1035.2 720.8 1016 717 1016 717 992.7 713.2 992.7 713.2 970.6 709.4 970.6 709.4 947.2 705.6 947.2 705.6 934.5 701.8 934.5 701.8 925.4 698 925.4 698 925.6 694.2 925.6 694.2 923 690.4 923 690.4 926 686.6 926 686.6 924.7 682.8 924.7 682.8 926.5 679 926.5 679 925.5 675.2 925.5 675.2 923.6 671.4 923.6 671.4 923.2 667.6 923.2 667.6 924.4 663.8 924.4 663.8 925.8 660 925.8 660 923.8 656.2 923.8 656.2 923.5 652.4 923.5 652.4 926.2 648.6 926.2 648.6 923.2 644.8 923.2 644.8 923.6 641 923.6 641 926.8 637.2 926.8 637.2 925.6 633.4 925.6 633.4 925.8 629.6 925.8 629.6 928.1 625.8 928.1 625.8 928 622 928 622 928.4 618.2 928.4 618.2 931.8 614.4 931.8 614.4 932.8 610.6 932.8 610.6 933.5 606.8 933.5 606.8 937.5 603 937.5 603 938 599.2 938 599.2 940.6 595.4 940.6 595.4 941.8 591.6 941.8 591.6 943.7 587.8 943.7 587.8 944.7 584 944.7 584 950.6 580.2 950.6 580.2 953.6 576.4 953.6 576.4 958 572.6 958 572.6 958.4 568.8 958.4 568.8 964.8 565 964.8 565 967 561.2 967 561.2 967.3 557.4 967.3 557.4 967.6 553.6 967.6 553.6 968.2 549.8 968.2 549.8 967.9 546 967.9 546 964.5 542.2 964.5 542.2 955.1 538.4 955.1 538.4 946.3 534.6 946.3 534.6 946.3 530.8 946.3 530.8 947.2 527 947.2 527 946.4 523.2 946.4 523.2 947.7 519.4 947.7 519.4 948.1 515.6 948.1 515.6 949.6 511.8 949.6 511.8 950.9 508 950.9 508 953.6 504.2 953.6 504.2 953.6 500.4 953.6 500.4 954.1 496.6 954.1 496.6 956.2 492.8 956.2 492.8 958.2 489 958.2 489 960.1 485.2 960.1 485.2 962.4 481.4 962.4 481.4 965.7 477.6 965.7 477.6 968.8 473.8 968.8 473.8 970 470 970 470 972.1 466.2 972.1 466.2 975.2 462.4 975.2 462.4 980.5 458.6 980.5 458.6 982.9 454.8 982.9 454.8 982.7 451 982.7 451 984.3 447.2 984.3 447.2 989.7 443.4 989.7 443.4 990.9 439.6 990.9 439.6 994.5 435.8 994.5 435.8 999.4 432 999.4 432 1000.2 428.2 1000.2 428.2 1004.9 424.4 1004.9 424.4 1009.7 420.6 1009.7 420.6 1012.8 416.8 1012.8 416.8 1015.1 413 1015.1 413 1020.4 409.2 1020.4 409.2 1023.7 405.4 1023.7 405.4 1025 401.6 1025 401.6 1030.6 397.8 1030.6 397.8 1036 394 1036 394 1038.4 390.2 1038.4 390.2 1046.8 386.4 1046.8 386.4 1048.3 382.6 1048.3 382.6 1056.5 378.8 1056.5 378.8 1057.3 375 1057.3 375 1059.7 371.2 1059.7 371.2 1067.1 367.4 1067.1 367.4 1069.9 363.6 1069.9 363.6 1077.8 359.8 1077.8 359.8 1077.8 356 1077.8 356 1082 352.2 1082 352.2 1084.5 348.4 1084.5 348.4 1089.1 344.6 1089.1 344.6 1095.1 340.8 1095.1 340.8 1101.3 337 1101.3 337 1105 333.2 1105 333.2 1110.9 329.4 1110.9 329.4 1115 325.6 1115 325.6 1120.4 321.8 1120.4 321.8 1124.8 318 1124.8 318 1130.2 314.2 1130.2 314.2 1137.1 310.4 1137.1 310.4 1139.9 306.6 1139.9 306.6 1146.8 302.8 1146.8 302.8 1150.9 299 1150.9 299 1154.4 295.2 1154.4 295.2 1159.7 291.4 1159.7 291.4 1162.7 287.6 1162.7 287.6 1168.2 283.8 1168.2 283.8 1170.3 280 1170.3 280 1178.1 276.2 1178.1 276.2 1179.9 272.4 1179.9 272.4 1184.3 268.6 1184.3 268.6 1188.2 264.8 1188.2 264.8 1195.7 261 1195.7 261 1200.9 257.2 1200.9 257.2 1205.7 253.4 1205.7 253.4 1210.7 249.6 1210.7 249.6 1213.8 245.8 1213.8 245.8 1221.6 242 1221.6 242 1223.9 238.2 1223.9 238.2 1231 234.4 1231 234.4 1234.1 230.6 1234.1 230.6 1240 226.8 1240 226.8 1247.1 223 1247.1 223 1250.5 219.2 1250.5 219.2 1257.2 215.4 1257.2 215.4 1260.3 211.6 1260.3 211.6 1267 207.8 1267 207.8 1272.5 204 1272.5 204 1282.6 200.2 1282.6 200.2 1287.8 196.4 1287.8Z" fill="#0000ff"/>
<g style="mix-blend-mode:multiply"><rect x="192.4" y="824.8" width="8.4" height="505.4" fill="#939393"/><rect x="196.4" y="820.8" width="699.4" height="7.4" fill="#939393"/><rect x="888" y="820.8" width="7.8" height="505.4" fill="#939393"/><rect x="196.4" y="1323" width="695.4" height="7.2" fill="#939393"/></g>
<g><rect x="229.2" y="824.8" width="4" height="3.4" fill="#222"/><rect x="229.2" y="828.2" width="4" height="3.7" fill="#5e5e5e"/><rect x="229.2" y="1323" width="4" height="3.7" fill="#2a2a2a"/><rect x="229.2" y="1319.2" width="4" height="3.8" fill="#5e5e5e"/><rect x="403.1" y="824.8" width="4" height="3.4" fill="#222"/><rect x="403.1" y="828.2" width="4" height="3.7" fill="#5e5e5e"/><rect x="403.1" y="1323" width="4" height="3.7" fill="#2a2a2a"/><rect x="403.1" y="1319.2" width="4" height="3.8" fill="#5e5e5e"/><rect x="577" y="824.8" width="4" height="3.4" fill="#222"/><rect x="577" y="828.2" width="4" height="3.7" fill="#5e5e5e"/><rect x="577" y="1323" width="4" height="3.7" fill="#2a2a2a"/><rect x="577" y="1319.2" width="4" height="3.8" fill="#5e5e5e"/><rect x="750.9" y="824.8" width="4" height="3.4" fill="#222"/><rect x="750.9" y="828.2" width="4" height="3.7" fill="#5e5e5e"/><rect x="750.9" y="1323" width="4" height="3.7" fill="#2a2a2a"/><rect x="750.9" y="1319.2" width="4" height="3.8" fill="#5e5e5e"/><rect x="196.4" y="1155.6" width="4.4" height="7.2" fill="#555"/><rect x="200.8" y="1155.6" width="3.8" height="7.2" fill="#aaa"/><rect x="888" y="1155.6" width="3.8" height="7.2" fill="#555"/><rect x="884.2" y="1155.6" width="3.8" height="7.2" fill="#aaa"/><rect x="196.4" y="988.2" width="4.4" height="7.2" fill="#555"/><rect x="200.8" y="988.2" width="3.8" height="7.2" fill="#aaa"/><rect x="888" y="988.2" width="3.8" height="7.2" fill="#555"/><rect x="884.2" y="988.2" width="3.8" height="7.2" fill="#aaa"/><rect x="196.4" y="824.8" width="4.4" height="3.4" fill="#5c5c5c"/><rect x="888" y="824.8" width="3.8" height="3.4" fill="#5c5c5c"/><rect x="196.4" y="1323" width="4.4" height="3.2" fill="#5c5c5c"/><rect x="888" y="1323" width="3.8" height="3.2" fill="#5c5c5c"/></g>
<rect x="457" y="821" width="431" height="72.1" fill="#ffffff"/>
<g style="mix-blend-mode:multiply"><rect x="457" y="821" width="431" height="7.6" fill="#939393"/><rect x="457" y="893.1" width="431" height="7.6" fill="#939393"/><rect x="457" y="828.6" width="7.8" height="64.5" fill="#939393"/><rect x="880.4" y="828.6" width="7.6" height="64.5" fill="#939393"/></g>
<rect x="489.2" y="858.8" width="170.1" height="4" fill="#0000ff"/>
<path clip-path="url(#clipd)" d="M1111.4 1287.9L1111.7 1287.1 1112.1 1286.1 1112.4 1284.9 1112.8 1283.5 1113.1 1281.6 1113.5 1281.8 1113.8 1279.9 1114.2 1279 1114.5 1278.8 1114.9 1278 1115.2 1277.4 1115.6 1276.4 1115.9 1275.4 1116.3 1275 1116.6 1273.9 1117 1273.1 1117.3 1272.8 1117.7 1272.2 1118 1271.7 1118.4 1270.9 1118.7 1270.9 1119.1 1269.7 1119.4 1269.2 1119.7 1269 1120.1 1267.2 1120.4 1267.9 1120.8 1267.2 1121.1 1266.2 1121.5 1266.5 1121.8 1265.4 1122.2 1265.2 1122.5 1264.4 1122.9 1263.4 1123.2 1262.7 1123.6 1261.8 1123.9 1261.4 1124.3 1260.7 1124.6 1260.4 1125 1260.3 1125.3 1259.1 1125.7 1259.3 1126 1258.8 1126.4 1257.4 1126.7 1257.2 1127.1 1256.9 1127.4 1256.2 1127.7 1255.6 1128.1 1256.1 1128.4 1255 1128.8 1255 1129.1 1254 1129.5 1253.8 1129.8 1252.5 1130.2 1252.3 1130.5 1252.4 1130.9 1251.6 1131.2 1251.6 1131.6 1250.6 1131.9 1249.9 1132.3 1249.5 1132.6 1250 1133 1248.8 1133.3 1248 1133.7 1247.6 1134 1246.7 1134.4 1247.3 1134.7 1246 1135.1 1246 1135.4 1245.2 1135.7 1244.6 1136.1 1244 1136.4 1244.1 1136.8 1243.3 1137.1 1243.4 1137.5 1243 1137.8 1241.7 1138.2 1241.5 1138.5 1241.7 1138.9 1240.9 1139.2 1240.1 1139.6 1239 1139.9 1238.7 1140.3 1238.4 1140.6 1239 1141 1237.8 1141.3 1237.1 1141.7 1236.7 1142 1236.2 1142.4 1236 1142.7 1234.7 1143 1234.4 1143.4 1234.6 1143.7 1234.5 1144.1 1232.8 1144.4 1233.4 1144.8 1232.2 1145.1 1231.4 1145.5 1232.2 1145.8 1231.2 1146.2 1231 1146.5 1230.2 1146.9 1229.8 1147.2 1228.6 1147.6 1228.7 1147.9 1228.5 1148.3 1227.6 1148.6 1227.7 1149 1227.3 1149.3 1225.8 1149.7 1226.6 1150 1226 1150.4 1225.3 1150.7 1225.3 1151 1225.3 1151.4 1223.5 1151.7 1223.8 1152.1 1223.2 1152.4 1222.7 1152.8 1222.5 1153.1 1222.1 1153.5 1221.1 1153.8 1219.7 1154.2 1219.9 1154.5 1219.5 1154.9 1219.9 1155.2 1218.9 1155.6 1218.9 1155.9 1217.6 1156.3 1217.5 1156.6 1216.9 1157 1216.5 1157.3 1216.3 1157.7 1216.2 1158 1214.8 1158.4 1215.1 1158.7 1214.6 1159 1213.7 1159.4 1213.4 1159.7 1212.5 1160.1 1211.7 1160.4 1211.5 1160.8 1211 1161.1 1210.6 1161.5 1209.8 1161.8 1210.4 1162.2 1209 1162.5 1209 1162.9 1208.6 1163.2 1207.6 1163.6 1207.3 1163.9 1206.4 1164.3 1205.7 1164.6 1206.6 1165 1205.2 1165.3 1203.8 1165.7 1203.8 1166 1203.1 1166.4 1203.1 1166.7 1203.3 1167 1202.7 1167.4 1201.4 1167.7 1200.8 1168.1 1201.1 1168.4 1200.4 1168.8 1199.7 1169.1 1200.1 1169.5 1199 1169.8 1197.7 1170.2 1197 1170.5 1197.5 1170.9 1196.3 1171.2 1196.8 1171.6 1196.5 1171.9 1196.6 1172.3 1194.8 1172.6 1194.9 1173 1193.3 1173.3 1193.7 1173.7 1193.3 1174 1193.7 1174.4 1191.9 1174.7 1192.2 1175 1191.7 1175.4 1192.1 1175.7 1190.3 1176.1 1189.9 1176.4 1190.1 1176.8 1189.4 1177.1 1188.8 1177.5 1188.1 1177.8 1188.1 1178.2 1187 1178.5 1187.4 1178.9 1187.1 1179.2 1186.6 1179.6 1187 1179.9 1185.9 1180.3 1184.7 1180.6 1184.6 1181 1184.6 1181.3 1183.7 1181.7 1184.3 1182 1183.2 1182.4 1182.4 1182.7 1181.9 1183 1182.2 1183.4 1181 1183.7 1180.2 1184.1 1180.8 1184.4 1179.9 1184.8 1180.5 1185.1 1180.2 1185.5 1178.8 1185.8 1178.6 1186.2 1178.2 1186.5 1178.1 1186.9 1177.6 1187.2 1176.7 1187.6 1176 1187.9 1176.4 1188.3 1176.6 1188.6 1175 1189 1174.9 1189.3 1174.5 1189.7 1174.3 1190 1173 1190.4 1173.6 1190.7 1173 1191 1173.6 1191.4 1172.7 1191.7 1172.4 1192.1 1171.7 1192.4 1171.2 1192.8 1171.2 1193.1 1169.8 1193.5 1170.6 1193.8 1169.9 1194.2 1169.3 1194.5 1169.5 1194.9 1168.3 1195.2 1167.9 1195.6 1167.9 1195.9 1166.6 1196.3 1167 1196.6 1166.5 1197 1166.7 1197.3 1166.6 1197.7 1165.8 1198 1165.2 1198.4 1164.9 1198.7 1164 1199 1165 1199.4 1164.1 1199.7 1164 1200.1 1162.3 1200.4 1162.7 1200.8 1162.3 1201.1 1162.1 1201.5 1160.9 1201.8 1161.1 1202.2 1160.4 1202.5 1161 1202.9 1159.3 1203.2 1159.2 1203.6 1158.7 1203.9 1158.1 1204.3 1158.3 1204.6 1157.9 1205 1157.1 1205.3 1156.8 1205.7 1156.7 1206 1156.2 1206.3 1156 1206.7 1155.1 1207 1154.6 1207.4 1154.6 1207.7 1153.4 1208.1 1154.4 1208.4 1153.5 1208.8 1152.2 1209.1 1152.7 1209.5 1152.8 1209.8 1151.1 1210.2 1151.1 1210.5 1151.4 1210.9 1150.1 1211.2 1150.4 1211.6 1150.2 1211.9 1149.2 1212.3 1148.9 1212.6 1148.8 1213 1148 1213.3 1147.9 1213.7 1147 1214 1146.6 1214.3 1145.8 1214.7 1145.9 1215 1145.8 1215.4 1145.4 1215.7 1144.5 1216.1 1143.3 1216.4 1143.2 1216.8 1143.4 1217.1 1142.3 1217.5 1142.7 1217.8 1141.3 1218.2 1141.5 1218.5 1140.5 1218.9 1140.2 1219.2 1140.1 1219.6 1139.4 1219.9 1139.5 1220.3 1138.6 1220.6 1137.7 1221 1136 1221.3 1136.9 1221.7 1136.7 1222 1136.7 1222.3 1135.4 1222.7 1136 1223 1135.2 1223.4 1134.3 1223.7 1134.4 1224.1 1132.8 1224.4 1132.5 1224.8 1132.7 1225.1 1132.3 1225.5 1132.1 1225.8 1131.7 1226.2 1130.4 1226.5 1129.8 1226.9 1129.5 1227.2 1129 1227.6 1128.9 1227.9 1128.1 1228.3 1128.4 1228.6 1127.3 1229 1126.2 1229.3 1125.8 1229.7 1126.1 1230 1125.6 1230.3 1124.4 1230.7 1123.7 1231 1124.7 1231.4 1123.8 1231.7 1123.1 1232.1 1122.2 1232.4 1122.6 1232.8 1121.6 1233.1 1121.5 1233.5 1120 1233.8 1120.3 1234.2 1120.1 1234.5 1119.8 1234.9 1118.8 1235.2 1118.5 1235.6 1118.8 1235.9 1117.9 1236.3 1118.1 1236.6 1117.4 1237 1117.2 1237.3 1116.8 1237.7 1116.1 1238 1115.8 1238.3 1114.8 1238.7 1114.2 1239 1114.2 1239.4 1114.2 1239.7 1112.9 1240.1 1113.7 1240.4 1113.2 1240.8 1111.6 1241.1 1111.2 1241.5 1110.7 1241.8 1110.7 1242.2 1110.7 1242.5 1109.9 1242.9 1109 1243.2 1109.1 1243.6 1108.6 1243.9 1108.5 1244.3 1107.9 1244.6 1106.6 1245 1106.2 1245.3 1106.4 1245.7 1105.9 1246 1105.2 1246.3 1104.2 1246.7 1104.4 1247 1103.5 1247.4 1103.8 1247.7 1103 1248.1 1101.8 1248.4 1101 1248.8 1101.4 1249.1 1100.7 1249.5 1099.6 1249.8 1099.6 1250.2 1099.1 1250.5 1098.2 1250.9 1097.8 1251.2 1096.9 1251.6 1096.6 1251.9 1096.7 1252.3 1096 1252.6 1095.5 1253 1095.5 1253.3 1094.9 1253.7 1093.6 1254 1094.3 1254.3 1092.7 1254.7 1092.6 1255 1092.3 1255.4 1091.6 1255.7 1091.2 1256.1 1090.5 1256.4 1090.7 1256.8 1090.2 1257.1 1089.8 1257.5 1088.5 1257.8 1088.5 1258.2 1088.9 1258.5 1088.2 1258.9 1087.9 1259.2 1087.2 1259.6 1086.8 1259.9 1085.5 1260.3 1086.8 1260.6 1085.2 1261 1085.1 1261.3 1085.2 1261.6 1084.5 1262 1084.3 1262.3 1083.7 1262.7 1082.9 1263 1083.6 1263.4 1082 1263.7 1082.3 1264.1 1081.2 1264.4 1081.3 1264.8 1080.5 1265.1 1080.4 1265.5 1079.9 1265.8 1079.9 1266.2 1079.9 1266.5 1078.9 1266.9 1078.5 1267.2 1077.6 1267.6 1078.9 1267.9 1077.8 1268.3 1076.9 1268.6 1077.5 1269 1076.7 1269.3 1075.3 1269.6 1075.3 1270 1075.9 1270.3 1074.5 1270.7 1074.3 1271 1074.1 1271.4 1073.9 1271.7 1073.6 1272.1 1073.7 1272.4 1073.1 1272.8 1072.2 1273.1 1072.1 1273.5 1071 1273.8 1071.6 1274.2 1072.1 1274.5 1070.8 1274.9 1070.2 1275.2 1069.8 1275.6 1069.5 1275.9 1069.5 1276.3 1068.2 1276.6 1068.7 1277 1067.8 1277.3 1067.8 1277.6 1067.8 1278 1066.4 1278.3 1067.6 1278.7 1066.6 1279 1065.7 1279.4 1065.6 1279.7 1064.8 1280.1 1064.8 1280.4 1064.6 1280.8 1063.1 1281.1 1063.8 1281.5 1063.4 1281.8 1063.4 1282.2 1062.9 1282.5 1062 1282.9 1061.6 1283.2 1061.5 1283.6 1061.4 1283.9 1060.5 1284.3 1061.1 1284.6 1060.2 1285 1059.8 1285.3 1059.7 1285.6 1058.9 1286 1058.9 1286.3 1058.6 1286.7 1057.1 1287 1057.2 1287.4 1056.6 1287.7 1056.8 1288.1 1056 1288.4 1055.7 1288.8 1055.2 1289.1 1054.3 1289.5 1055 1289.8 1054.5 1290.2 1054.2 1290.5 1055.3 1290.9 1054 1291.2 1053.1 1291.6 1052.5 1291.9 1052.6 1292.3 1051.5 1292.6 1051 1293 1051.4 1293.3 1050.2 1293.6 1049.7 1294 1049.9 1294.3 1050.1 1294.7 1048.7 1295 1049 1295.4 1048.7 1295.7 1048.1 1296.1 1047.9 1296.4 1046.9 1296.8 1046.6 1297.1 1046 1297.5 1045.9 1297.8 1046 1298.2 1045.4 1298.5 1044.5 1298.9 1044.7 1299.2 1042.9 1299.6 1043.8 1299.9 1043.5 1300.3 1042.3 1300.6 1042.1 1301 1042 1301.3 1041.7 1301.6 1041 1302 1040.4 1302.3 1040 1302.7 1040 1303 1039.3 1303.4 1038.7 1303.7 1038.3 1304.1 1039.5 1304.4 1038.1 1304.8 1037.7 1305.1 1037 1305.5 1036.4 1305.8 1035.7 1306.2 1035.4 1306.5 1035.3 1306.9 1034.8 1307.2 1033.6 1307.6 1034.2 1307.9 1033.4 1308.3 1032.5 1308.6 1032.6 1309 1033.1 1309.3 1031.7 1309.6 1031.6 1310 1031.1 1310.3 1030.2 1310.7 1030 1311 1029.9 1311.4 1029 1311.7 1028.8 1312.1 1028.6 1312.4 1028.1 1312.8 1027.7 1313.1 1027.6 1313.5 1027.2 1313.8 1026.6 1314.2 1026.7 1314.5 1026.4 1314.9 1024.9 1315.2 1025.2 1315.6 1024.7 1315.9 1024.4 1316.3 1024 1316.6 1023.6 1316.9 1023.2 1317.3 1023.2 1317.6 1022.1 1318 1022.4 1318.3 1021.4 1318.7 1022.2 1319 1021.5 1319.4 1020.3 1319.7 1020.4 1320.1 1020.3 1320.4 1019.5 1320.8 1019.7 1321.1 1018.9 1321.5 1019.5 1321.8 1018.4 1322.2 1018.2 1322.5 1017.3 1322.9 1016.9 1323.2 1017.2 1323.6 1015.9 1323.9 1016.4 1324.3 1016.7 1324.6 1016.5 1324.9 1014.5 1325.3 1014.8 1325.6 1014.7 1326 1014.4 1326.3 1014.2 1326.7 1012.9 1327 1013.1 1327.4 1012 1327.7 1012.5 1328.1 1013 1328.4 1011.4 1328.8 1011.5 1329.1 1011.1 1329.5 1010 1329.8 1010.5 1330.2 1009.5 1330.5 1009.7 1330.9 1009.6 1331.2 1008.7 1331.6 1008.9 1331.9 1007.7 1332.3 1007.5 1332.6 1007.5 1332.9 1006.9 1333.3 1006.6 1333.6 1006.6 1334 1005.7 1334.3 1005.9 1334.7 1005.1 1335 1005.4 1335.4 1004.6 1335.7 1004.1 1336.1 1004.3 1336.4 1003.7 1336.8 1003.4 1337.1 1002.5 1337.5 1002.8 1337.8 1001.9 1338.2 1001.1 1338.5 1001.3 1338.9 1001.7 1339.2 1000.7 1339.6 999.9 1339.9 1000.2 1340.3 999.2 1340.6 999.1 1340.9 998.9 1341.3 998.8 1341.6 998.6 1342 998.2 1342.3 997.8 1342.7 997.3 1343 997 1343.4 997 1343.7 996.6 1344.1 996.1 1344.4 996.7 1344.8 996.1 1345.1 995.8 1345.5 995.3 1345.8 995 1346.2 994.7 1346.5 994.7 1346.9 993.8 1347.2 993.7 1347.6 994.2 1347.9 993.2 1348.3 993.4 1348.6 991.9 1348.9 992.6 1349.3 992.2 1349.6 991.8 1350 991.6 1350.3 991.2 1350.7 990.3 1351 990.5 1351.4 990 1351.7 989.5 1352.1 990.1 1352.4 988.7 1352.8 988.8 1353.1 988.4 1353.5 988.9 1353.8 987.9 1354.2 987.7 1354.5 987.8 1354.9 986.4 1355.2 986.8 1355.6 986.8 1355.9 986.4 1356.3 985.8 1356.6 985.4 1356.9 985.4 1357.3 984.9 1357.6 984.5 1358 985.3 1358.3 984.8 1358.7 984.7 1359 984 1359.4 983.2 1359.7 983.3 1360.1 983.7 1360.4 983.1 1360.8 982.3 1361.1 982.7 1361.5 982.3 1361.8 981.9 1362.2 982.5 1362.5 981.2 1362.9 981.1 1363.2 980.8 1363.6 981.2 1363.9 980.9 1364.3 980.6 1364.6 980 1364.9 979.8 1365.3 979.5 1365.6 978.6 1366 978.6 1366.3 979.2 1366.7 978.9 1367 977.7 1367.4 978.3 1367.7 977.4 1368.1 977 1368.4 977.7 1368.8 977.4 1369.1 977 1369.5 977.2 1369.8 977 1370.2 976.5 1370.5 975.8 1370.9 976.1 1371.2 975.8 1371.6 975.7 1371.9 975.8 1372.2 974.4 1372.6 975.8 1372.9 974.9 1373.3 974.1 1373.6 974.7 1374 973.7 1374.3 973.2 1374.7 973.8 1375 973.1 1375.4 973.5 1375.7 972.6 1376.1 972.5 1376.4 972.2 1376.8 971.5 1377.1 971.6 1377.5 971 1377.8 971.1 1378.2 971.6 1378.5 970.8 1378.9 970.5 1379.2 971 1379.6 969.7 1379.9 969.9 1380.2 969.6 1380.6 969.9 1380.9 969.3 1381.3 968.9 1381.6 969 1382 968.6 1382.3 969.2 1382.7 967.5 1383 968.3 1383.4 968.6 1383.7 967.8 1384.1 967.5 1384.4 966.7 1384.8 967.1 1385.1 966.3 1385.5 966.6 1385.8 965.1 1386.2 965.5 1386.5 964.7 1386.9 965.7 1387.2 964.8 1387.6 965.2 1387.9 964.4 1388.2 964.1 1388.6 964.8 1388.9 964.4 1389.3 964.2 1389.6 964.1 1390 963.6 1390.3 963.5 1390.7 963.5 1391 962.6 1391.4 962.2 1391.7 962.8 1392.1 962.3 1392.4 961.9 1392.8 961.8 1393.1 961.8 1393.5 960.9 1393.8 960.7 1394.2 960.6 1394.5 960.8 1394.9 959.7 1395.2 959.6 1395.6 960.3 1395.9 959.9 1396.2 959.2 1396.6 959.8 1396.9 959.1 1397.3 959.1 1397.6 959.2 1398 958.8 1398.3 959.1 1398.7 958.5 1399 958.9 1399.4 956.9 1399.7 957 1400.1 956.8 1400.4 957 1400.8 956.5 1401.1 956.1 1401.5 956 1401.8 955.8 1402.2 956.3 1402.5 955.5 1402.9 955.7 1403.2 955.7 1403.6 955.4 1403.9 954.5 1404.2 954 1404.6 954.8 1404.9 953.3 1405.3 953.2 1405.6 953.7 1406 953.6 1406.3 953.2 1406.7 952.5 1407 952.9 1407.4 953 1407.7 952.2 1408.1 953.1 1408.4 952 1408.8 951.4 1409.1 951.6 1409.5 951.2 1409.8 951.1 1410.2 950.9 1410.5 951 1410.9 951.2 1411.2 950.8 1411.6 950.6 1411.9 949.9 1412.2 949.6 1412.6 949.9 1412.9 950.3 1413.3 950.1 1413.6 949.8 1414 948.9 1414.3 949.2 1414.7 949.3 1415 949.4 1415.4 948.6 1415.7 948.7 1416.1 948.7 1416.4 948.5 1416.8 947.7 1417.1 948.4 1417.5 947.4 1417.8 947.5 1418.2 947.9 1418.5 947.4 1418.9 947.7 1419.2 947.8 1419.6 947.5 1419.9 947.6 1420.2 946.9 1420.6 947 1420.9 946.6 1421.3 946.4 1421.6 947.9 1422 946.3 1422.3 947.1 1422.7 946.2 1423 946.5 1423.4 945.9 1423.7 945.3 1424.1 946.5 1424.4 945.6 1424.8 945.6 1425.1 946.2 1425.5 945 1425.8 945.2 1426.2 945.3 1426.5 945.3 1426.9 943.5 1427.2 944.9 1427.6 945.4 1427.9 944.9 1428.2 944.6 1428.6 944.4 1428.9 944.2 1429.3 944.5 1429.6 943.7 1430 944 1430.3 944.3 1430.7 943.9 1431 943.7 1431.4 943 1431.7 943.1 1432.1 943.3 1432.4 943.1 1432.8 942.9 1433.1 942 1433.5 943 1433.8 942.5 1434.2 942.3 1434.5 942.9 1434.9 942.4 1435.2 942.3 1435.5 942.5 1435.9 942 1436.2 941.8 1436.6 941.7 1436.9 942.2 1437.3 941.9 1437.6 941 1438 942.4 1438.3 941.8 1438.7 941.5 1439 941.7 1439.4 941.5 1439.7 941.6 1440.1 941.4 1440.4 941.1 1440.8 941.7 1441.1 941.5 1441.5 941.6 1441.8 941.7 1442.2 941.5 1442.5 941.9 1442.9 941.1 1443.2 940.6 1443.5 940.6 1443.9 940.8 1444.2 941.7 1444.6 940.6 1444.9 941.5 1445.3 941.2 1445.6 940.3 1446 941.5 1446.3 940.7 1446.7 940.9 1447 941 1447.4 941.3 1447.7 940.7 1448.1 941.1 1448.4 940.5 1448.8 940.4 1449.1 941.5 1449.5 941.1 1449.8 941.1 1450.2 941.6 1450.5 941.8 1450.9 941.5 1451.2 941.9 1451.5 942.8 1451.9 942.6 1452.2 942.5 1452.6 943.6 1452.9 943.8 1453.3 943.2 1453.6 943.7 1454 945.3 1454.3 945.7 1454.7 945.5 1455 946.9 1455.4 947.4 1455.7 948.4 1456.1 948.9 1456.4 951.2 1456.8 952.1 1457.1 952.7 1457.5 952.7 1457.8 954.1 1458.2 955.5 1458.5 955.4 1458.9 956.2 1459.2 957.4 1459.5 958.3 1459.9 958.8 1460.2 959.3 1460.6 960.4 1460.9 960.9 1461.3 961.7 1461.6 962.2 1462 962.7 1462.3 962.5 1462.7 962.9 1463 963.1 1463.4 962.8 1463.7 963.1 1464.1 963.1 1464.4 964.3 1464.8 963.5 1465.1 964.1 1465.5 964.3 1465.8 964.4 1466.2 963.6 1466.5 963.8 1466.9 964.5 1467.2 964.7 1467.5 964.2 1467.9 964.4 1468.2 963.5 1468.6 964.8 1468.9 964.9 1469.3 964.2 1469.6 964 1470 964 1470.3 963.6 1470.7 963 1471 964 1471.4 964 1471.7 964.5 1472.1 963.6 1472.4 963.3 1472.8 963.6 1473.1 962.9 1473.5 963.3 1473.8 962.6 1474.2 962.9 1474.5 963.3 1474.9 963 1475.2 963.2 1475.5 963.1 1475.9 962 1476.2 961.6 1476.6 960.9 1476.9 961.5 1477.3 961.4 1477.6 961.5 1478 960.4 1478.3 960.4 1478.7 960.6 1479 959.8 1479.4 959.6 1479.7 960.4 1480.1 959 1480.4 959 1480.8 958.9 1481.1 958.7 1481.5 957.4 1481.8 957.2 1482.2 956.8 1482.5 957.7 1482.9 957.1 1483.2 956.2 1483.5 956.7 1483.9 956.2 1484.2 956.3 1484.6 954.4 1484.9 954.4 1485.3 954.3 1485.6 954.1 1486 954 1486.3 953.7 1486.7 952.9 1487 953.1 1487.4 951.9 1487.7 952.3 1488.1 952.1 1488.4 950.8 1488.8 951 1489.1 950.4 1489.5 950.4 1489.8 950.8 1490.2 949.3 1490.5 949.8 1490.8 948.4 1491.2 949.2 1491.5 949 1491.9 947.7 1492.2 947.4 1492.6 947.2 1492.9 947.4 1493.3 946.2 1493.6 946.9 1494 946.2 1494.3 946 1494.7 945.5 1495 944.7 1495.4 945 1495.7 944.2 1496.1 943.9 1496.4 944.6 1496.8 944.1 1497.1 943.5 1497.5 943.3 1497.8 942.6 1498.2 943.3 1498.5 941.9 1498.8 941.7 1499.2 941.8 1499.5 942.1 1499.9 941.3 1500.2 941.4 1500.6 940.7 1500.9 940.8 1501.3 940.3 1501.6 940.6 1502 939.6 1502.3 941 1502.7 940.3 1503 939.5 1503.4 940.2 1503.7 939.1 1504.1 939.7 1504.4 939 1504.8 939.3 1505.1 938.9 1505.5 938.5 1505.8 938.4 1506.2 938.4 1506.5 937.1 1506.8 937.8 1507.2 938 1507.5 937 1507.9 936.8 1508.2 936.4 1508.6 936 1508.9 936.8 1509.3 935.7 1509.6 935.5 1510 935.7 1510.3 935.3 1510.7 936.4 1511 935.1 1511.4 933.9 1511.7 935.1 1512.1 934.3 1512.4 933.8 1512.8 933.4 1513.1 932.8 1513.5 934 1513.8 933 1514.2 932.5 1514.5 933.2 1514.8 932.5 1515.2 931.6 1515.5 931.7 1515.9 931.8 1516.2 933 1516.6 931.8 1516.9 931.5 1517.3 931.6 1517.6 931.4 1518 930 1518.3 931.2 1518.7 931.4 1519 930.7 1519.4 930.8 1519.7 930.7 1520.1 930.5 1520.4 930 1520.8 930 1521.1 930.5 1521.5 929.9 1521.8 929.5 1522.2 929.7 1522.5 928.9 1522.8 928.8 1523.2 929.4 1523.5 928.7 1523.9 927.8 1524.2 927.8 1524.6 928.3 1524.9 927.7 1525.3 928.2 1525.6 928.3 1526 927.3 1526.3 927.2 1526.7 927 1527 927 1527.4 926.7 1527.7 926.9 1528.1 926.3 1528.4 926 1528.8 926.2 1529.1 925.7 1529.5 926.7 1529.8 926.1 1530.2 925.1 1530.5 924.8 1530.8 925.3 1531.2 925.3 1531.5 925.7 1531.9 924.9 1532.2 924.6 1532.6 925.4 1532.9 924.4 1533.3 924.3 1533.6 924.2 1534 924.8 1534.3 924 1534.7 924.7 1535 923.4 1535.4 923.8 1535.7 924.3 1536.1 923.1 1536.4 923.1 1536.8 923.7 1537.1 922.5 1537.5 923.7 1537.8 923.1 1538.2 922.6 1538.5 924 1538.8 922.5 1539.2 922.9 1539.5 922.8 1539.9 923.1 1540.2 922.5 1540.6 923 1540.9 922.8 1541.3 922.5 1541.6 922.8 1542 921.6 1542.3 922.7 1542.7 922.4 1543 922.1 1543.4 921.9 1543.7 921.5 1544.1 921.5 1544.4 921.9 1544.8 921.9 1545.1 921.6 1545.5 921.2 1545.8 921.2 1546.2 921.7 1546.5 922.2 1546.8 920.4 1547.2 920.9 1547.5 921.1 1547.9 921 1548.2 921.3 1548.6 921.5 1548.9 921.1 1549.3 921 1549.6 921.1 1550 921.4 1550.3 920.9 1550.7 920.4 1551 920.8 1551.4 920.5 1551.7 921.3 1552.1 920.5 1552.4 920.4 1552.8 920.8 1553.1 920.9 1553.5 920 1553.8 920.4 1554.1 919.8 1554.5 920.1 1554.8 919.6 1555.2 919.9 1555.5 920.3 1555.9 919.7 1556.2 919.7 1556.6 919.2 1556.9 919.6 1557.3 919.5 1557.6 918.9 1558 918.8 1558.3 918.9 1558.7 918.7 1559 918.9 1559.4 918.7 1559.7 918.6 1560.1 918.8 1560.4 918.9 1560.8 918.8 1561.1 917.9 1561.5 918.8 1561.8 918.9 1562.1 919 1562.5 918.8 1562.8 918.7 1563.2 919.3 1563.5 919.6 1563.9 918.7 1564.2 919.5 1564.6 918.7 1564.9 918.7 1565.3 918.3 1565.6 918.1 1566 918.6 1566.3 919 1566.7 919.3 1567 919.1 1567.4 918.8 1567.7 919.7 1568.1 918.8 1568.4 918.8 1568.8 918.5 1569.1 918.9 1569.5 918.7 1569.8 919.1 1570.1 919 1570.5 919.5 1570.8 918.7 1571.2 918.1 1571.5 918.7 1571.9 918.6 1572.2 919.2 1572.6 918.2 1572.9 919.1 1573.3 918.5 1573.6 918.7 1574 919.2 1574.3 918.4 1574.7 918.8 1575 918.7 1575.4 918.6 1575.7 918.8 1576.1 919 1576.4 918.6 1576.8 919 1577.1 918.8 1577.5 919.1 1577.8 919.4 1578.1 919.1 1578.5 919 1578.8 918.8 1579.2 918.3 1579.5 919.5 1579.9 918.7 1580.2 919.7 1580.6 919.2 1580.9 919 1581.3 919.7 1581.6 919.6 1582 918.7 1582.3 918.8 1582.7 918.9 1583 919.2 1583.4 918 1583.7 919 1584.1 919.4 1584.4 918.4 1584.8 918.9 1585.1 919.4 1585.5 918.9 1585.8 919.4 1586.1 919.3 1586.5 919.6 1586.8 920.2 1587.2 919.5 1587.5 919.9 1587.9 920.5 1588.2 920.5 1588.6 919.9 1588.9 920.5 1589.3 920.4 1589.6 920.2 1590 920.5 1590.3 921.3 1590.7 920.4 1591 920.3 1591.4 920.3 1591.7 920 1592.1 920.6 1592.4 920.4 1592.8 920 1593.1 920.7 1593.5 919.9 1593.8 919.8 1594.1 920.1 1594.5 919.6 1594.8 920 1595.2 920.6 1595.5 919.7 1595.9 919.9 1596.2 919.8 1596.6 919.8 1596.9 919.2 1597.3 919.5 1597.6 919.9 1598 919.3 1598.3 919.1 1598.7 919.6 1599 919.4 1599.4 919.3 1599.7 919.3 1600.1 918.9 1600.4 918.5 1600.8 918.1 1601.1 918.3 1601.5 918.4 1601.8 918.3 1602.1 918.2 1602.5 918.9 1602.8 918.4 1603.2 918.5 1603.5 918.6 1603.9 918.7 1604.2 918.7 1604.6 918.6 1604.9 919 1605.3 918.2 1605.6 918.4 1606 918.3 1606.3 918.2 1606.7 918 1607 918.5 1607.4 918.3 1607.7 918.9 1608.1 919.2 1608.4 919 1608.8 917.5 1609.1 918.9 1609.4 918 1609.8 917.5 1610.1 918.3 1610.5 917.4 1610.8 917.4 1611.2 917.7 1611.5 917.1 1611.9 917.9 1612.2 918.6 1612.6 918.2 1612.9 918.8 1613.3 919.3 1613.6 919.5 1614 918.3 1614.3 919.8 1614.7 919.9 1615 920.5 1615.4 920.5 1615.7 921 1616.1 921.5 1616.4 922.2 1616.8 922.7 1617.1 922.8 1617.4 922.9 1617.8 922.7 1618.1 923.8 1618.5 924.3 1618.8 925.6 1619.2 926.7 1619.5 928.2 1619.9 928.5 1620.2 930.4 1620.6 930.7 1620.9 930.9 1621.3 932.5 1621.6 933.2 1622 935 1622.3 936.7 1622.7 937.6 1623 938.9 1623.4 939.7 1623.7 940.8 1624.1 943.5 1624.4 944.9 1624.8 946.5 1625.1 948.3 1625.4 950.6 1625.8 952.1 1626.1 954.1 1626.5 956.3 1626.8 959.2 1627.2 960.9 1627.5 963.8 1627.9 964.9 1628.2 967.7 1628.6 969.4 1628.9 971.4 1629.3 973.3 1629.6 975.4 1630 977.5 1630.3 978 1630.7 980.6 1631 982.7 1631.4 984.1 1631.7 987.4 1632.1 989.6 1632.4 992.2 1632.8 994.1 1633.1 996.6 1633.4 998.8 1633.8 1001 1634.1 1002.7 1634.5 1004.2 1634.8 1007.4 1635.2 1008.5 1635.5 1010.5 1635.9 1012.4 1636.2 1015.1 1636.6 1016.2 1636.9 1019.5 1637.3 1022.5 1637.6 1026 1638 1029.5 1638.3 1031.2 1638.7 1032.8 1639 1032.6 1639.4 1032.5 1639.7 1032.6 1640.1 1032.7 1640.4 1032.9 1640.8 1032.1 1641.1 1032.9 1641.4 1033.7 1641.8 1033.5 1642.1 1033.6 1642.5 1033.4 1642.8 1033.6 1643.2 1033.8 1643.5 1032.7 1643.9 1033.3 1644.2 1033.3 1644.6 1033 1644.9 1032.6 1645.3 1031.5 1645.6 1031.4 1646 1030.5 1646.3 1031.7 1646.7 1029.6 1647 1028.6 1647.4 1027.6 1647.7 1027.7 1648.1 1027.7 1648.4 1026.1 1648.8 1026 1649.1 1025.9 1649.4 1024.9 1649.8 1023.6 1650.1 1023 1650.5 1022.7 1650.8 1022.9 1651.2 1020.9 1651.5 1021.9 1651.9 1021 1652.2 1021 1652.6 1019.3 1652.9 1019.1 1653.3 1018.4 1653.6 1018.2 1654 1017.7 1654.3 1017 1654.7 1017.3 1655 1015.5 1655.4 1014.9 1655.7 1014.8 1656.1 1014 1656.4 1013.3 1656.8 1012.1 1657.1 1011.8 1657.4 1011.3 1657.8 1010.8 1658.1 1010.5 1658.5 1009.4 1658.8 1008.3 1659.2 1007.7 1659.5 1006.7 1659.9 1005.6 1660.2 1004.9 1660.6 1004.2 1660.9 1003.1 1661.3 1002.5 1661.6 1001.7 1662 1000.5 1662.3 1000.5 1662.7 998.2 1663 998.1 1663.4 996 1663.7 995.2 1664.1 993.5 1664.4 992.8 1664.7 992.1 1665.1 990.3 1665.4 989.7 1665.8 988.9 1666.1 988.2 1666.5 987.3 1666.8 986.8 1667.2 986.6 1667.5 986.9 1667.9 986 1668.2 985.4 1668.6 984.2 1668.9 984.4 1669.3 984.2 1669.6 983.2 1670 983.3 1670.3 982.7 1670.7 982 1671 982 1671.4 980.3 1671.7 979.7 1672.1 979.3 1672.4 978.9 1672.7 977.5 1673.1 976.2 1673.4 976.4 1673.8 975.8 1674.1 974.6 1674.5 974.8 1674.8 974.5 1675.2 973.2 1675.5 972.8 1675.9 972.1 1676.2 971.8 1676.6 970.9 1676.9 970.7 1677.3 970.4 1677.6 970 1678 969.1 1678.3 968.5 1678.7 968.1 1679 967.7 1679.4 969 1679.7 967.5 1680.1 966.8 1680.4 966.1 1680.7 966.3 1681.1 964.5 1681.4 964.4 1681.8 964.2 1682.1 963.3 1682.5 962.8 1682.8 962.3 1683.2 961 1683.5 960.7 1683.9 960.3 1684.2 959.3 1684.6 958.3 1684.9 958 1685.3 956.3 1685.6 956.6 1686 954.8 1686.3 954.6 1686.7 954.7 1687 953.6 1687.4 952.6 1687.7 952.6 1688.1 952.4 1688.4 951.3 1688.7 949.9 1689.1 950.8 1689.4 949.4 1689.8 949.1 1690.1 948.7 1690.5 948.2 1690.8 947.7 1691.2 946.6 1691.5 946.2 1691.9 946.4 1692.2 944.8 1692.6 945.5 1692.9 944.3 1693.3 944.1 1693.6 943.3 1694 943.3 1694.3 942.8 1694.7 943 1695 942.4 1695.4 942.4 1695.7 941.5 1696.1 942.5 1696.4 941.5 1696.7 941.7 1697.1 941.7 1697.4 941.8 1697.8 941.3 1698.1 941.9 1698.5 941.7 1698.8 940.7 1699.2 941.5 1699.5 940.1 1699.9 940.6 1700.2 940.2 1700.6 940.1 1700.9 939.8 1701.3 939.9 1701.6 939.8 1702 939.5 1702.3 938.8 1702.7 938.6 1703 938.4 1703.4 938.6 1703.7 938.7 1704.1 939.1 1704.4 937.9 1704.7 937.7 1705.1 938 1705.4 937.4 1705.8 937 1706.1 937.3 1706.5 936.8 1706.8 936.9 1707.2 937.6 1707.5 936.9 1707.9 936.7 1708.2 936.1 1708.6 936.5 1708.9 936.1 1709.3 936.2 1709.6 935.6 1710 935.4 1710.3 934.8 1710.7 934.7 1711 934.8 1711.4 934.6 1711.7 934.4 1712.1 934.3 1712.4 933.5 1712.7 935.1 1713.1 934 1713.4 933.7 1713.8 933.3 1714.1 934.1 1714.5 933.5 1714.8 933.2 1715.2 933.8 1715.5 934.4 1715.9 933.7 1716.2 934.1 1716.6 933.3 1716.9 934 1717.3 932.9 1717.6 933.6 1718 934 1718.3 933.9 1718.7 934.2 1719 933.6 1719.4 933.2 1719.7 933.9 1720.1 933.5 1720.4 934.3 1720.7 933.8 1721.1 933 1721.4 934.6 1721.8 933.5 1722.1 933.6 1722.5 934.9 1722.8 934.8 1723.2 934.7 1723.5 933.9 1723.9 934.6 1724.2 934.6 1724.6 934.3 1724.9 934.7 1725.3 934.8 1725.6 935.2 1726 934.8 1726.3 935.8 1726.7 935.1 1727 936.1 1727.4 936.6 1727.7 936.2 1728 936.5 1728.4 937.8 1728.7 937.2 1729.1 938.1 1729.4 938.1 1729.8 937.7 1730.1 938.6 1730.5 938.3 1730.8 938.8 1731.2 938 1731.5 939.1 1731.9 939.7 1732.2 939.9 1732.6 940 1732.9 939.8 1733.3 940 1733.6 939.8 1734 940.4 1734.3 940.6 1734.7 940.7 1735 941.1 1735.4 941.1 1735.7 941.1 1736 941.3 1736.4 942.1 1736.7 942.8 1737.1 942.6 1737.4 942.3 1737.8 943.7 1738.1 943.1 1738.5 942.9 1738.8 943.5 1739.2 943.9 1739.5 942.9 1739.9 943.3 1740.2 944.3 1740.6 943.8 1740.9 944.1 1741.3 945.4 1741.6 944 1742 945.8 1742.3 945.8 1742.7 946.4 1743 946.1 1743.4 947 1743.7 946.7 1744 946.4 1744.4 947 1744.7 947.4 1745.1 946.8 1745.4 948 1745.8 947.4 1746.1 948.1 1746.5 948 1746.8 948.2 1747.2 948.2 1747.5 948.3 1747.9 948.7 1748.2 948.6 1748.6 948.3 1748.9 948.5 1749.3 949 1749.6 948.8 1750 948.9 1750.3 948.6 1750.7 948.6 1751 948.6 1751.4 948.9 1751.7 948.7 1752 949.3 1752.4 949.9 1752.7 948.8 1753.1 949.5 1753.4 949.2 1753.8 949.3 1754.1 948.6 1754.5 949.4 1754.8 948.8 1755.2 949.1 1755.5 949.5 1755.9 949.6 1756.2 948.8 1756.6 948.9 1756.9 948.8 1757.3 948.3 1757.6 949 1758 949 1758.3 949.2 1758.7 949.2 1759 949.4 1759.4 949.7 1759.7 948.5 1760 950.1 1760.4 949.3 1760.7 949.2 1761.1 949.4 1761.4 949.9 1761.8 949.6 1762.1 949.8 1762.5 950.1 1762.8 949.8 1763.2 950 1763.5 950.2 1763.9 949.8 1764.2 950.7 1764.6 950.2 1764.9 950.9 1765.3 950.6 1765.6 951 1766 951.2 1766.3 952 1766.7 952.2 1767 952.5 1767.4 952.4 1767.7 952.4 1768 952.6 1768.4 953.6 1768.7 953.6 1769.1 954.7 1769.4 955.2 1769.8 955 1770.1 955.2 1770.5 955.9 1770.8 956.4 1771.2 955.8 1771.5 956.7 1771.9 957.5 1772.2 956.3 1772.6 957.6 1772.9 958.2 1773.3 958.3 1773.6 959.3 1774 958.8 1774.3 960.5 1774.7 960.9 1775 960.9 1775.4 961.6 1775.7 961.1 1776 962.8 1776.4 962.9 1776.7 962.9 1777.1 963.2 1777.4 963.4 1777.8 964.1 1778.1 963.7 1778.5 965.3 1778.8 965.4 1779.2 965.5 1779.5 966.4 1779.9 966.8 1780.2 967.2 1780.6 967.7 1780.9 968.3 1781.3 968.5 1781.6 969.3 1782 968.9 1782.3 970.2 1782.7 969.1 1783 969.6 1783.3 970.3 1783.7 971.3 1784 971.9 1784.4 971.6 1784.7 972.5 1785.1 972.8 1785.4 973.8 1785.8 973.5 1786.1 974.8 1786.5 974.9 1786.8 976.1 1787.2 976.2 1787.5 976.2 1787.9 977.1 1788.2 977.6 1788.6 977.6 1788.9 978.4 1789.3 978.4 1789.6 980.4 1790 979.7 1790.3 980.2 1790.7 981.6 1791 982 1791.3 981.7 1791.7 983 1792 983.4 1792.4 983.4 1792.7 984.3 1793.1 984.5 1793.4 985.7 1793.8 985.7 1794.1 986 1794.5 986.9 1794.8 988.5 1795.2 987.9 1795.5 988.7 1795.9 989.7 1796.2 989.3 1796.6 991.2 1796.9 990.2 1797.3 991.9 1797.6 991.5 1798 992.8 1798.3 993.9 1798.7 993.9 1799 994.4 1799.3 994.9 1799.7 995.2 1800 996.6 1800.4 996.6 1800.7 997.1 1801.1 998.2 1801.4 999 1801.8 999.6 1802.1 999.5 1802.5 1000.1 1802.8 1001.4 1803.2 1002.2 1803.5 1001.8 1803.9 1003.5 1804.2 1003.4 1804.6 1004.5 1804.9 1005.5 1805.3 1005.3 1805.6 1006.1 1806 1006.1 1806.3 1006.4 1806.7 1008 1807 1008.2" fill="none" stroke="#141414" stroke-width="3.9" stroke-linejoin="round"/>
<g style="mix-blend-mode:multiply"><rect x="1107.4" y="824.8" width="8.4" height="505.4" fill="#939393"/><rect x="1111.4" y="820.8" width="699.4" height="7.4" fill="#939393"/><rect x="1803" y="820.8" width="7.8" height="505.4" fill="#939393"/><rect x="1111.4" y="1323" width="695.4" height="7.2" fill="#939393"/></g>
<g><rect x="1144.2" y="824.8" width="4" height="3.4" fill="#222"/><rect x="1144.2" y="828.2" width="4" height="3.7" fill="#5e5e5e"/><rect x="1144.2" y="1323" width="4" height="3.7" fill="#2a2a2a"/><rect x="1144.2" y="1319.2" width="4" height="3.8" fill="#5e5e5e"/><rect x="1318.1" y="824.8" width="4" height="3.4" fill="#222"/><rect x="1318.1" y="828.2" width="4" height="3.7" fill="#5e5e5e"/><rect x="1318.1" y="1323" width="4" height="3.7" fill="#2a2a2a"/><rect x="1318.1" y="1319.2" width="4" height="3.8" fill="#5e5e5e"/><rect x="1492" y="824.8" width="4" height="3.4" fill="#222"/><rect x="1492" y="828.2" width="4" height="3.7" fill="#5e5e5e"/><rect x="1492" y="1323" width="4" height="3.7" fill="#2a2a2a"/><rect x="1492" y="1319.2" width="4" height="3.8" fill="#5e5e5e"/><rect x="1665.9" y="824.8" width="4" height="3.4" fill="#222"/><rect x="1665.9" y="828.2" width="4" height="3.7" fill="#5e5e5e"/><rect x="1665.9" y="1323" width="4" height="3.7" fill="#2a2a2a"/><rect x="1665.9" y="1319.2" width="4" height="3.8" fill="#5e5e5e"/><rect x="1111.4" y="1155.6" width="4.4" height="7.2" fill="#555"/><rect x="1115.8" y="1155.6" width="3.8" height="7.2" fill="#aaa"/><rect x="1803" y="1155.6" width="3.8" height="7.2" fill="#555"/><rect x="1799.2" y="1155.6" width="3.8" height="7.2" fill="#aaa"/><rect x="1111.4" y="988.2" width="4.4" height="7.2" fill="#555"/><rect x="1115.8" y="988.2" width="3.8" height="7.2" fill="#aaa"/><rect x="1803" y="988.2" width="3.8" height="7.2" fill="#555"/><rect x="1799.2" y="988.2" width="3.8" height="7.2" fill="#aaa"/><rect x="1111.4" y="824.8" width="4.4" height="3.4" fill="#5c5c5c"/><rect x="1803" y="824.8" width="3.8" height="3.4" fill="#5c5c5c"/><rect x="1111.4" y="1323" width="4.4" height="3.2" fill="#5c5c5c"/><rect x="1803" y="1323" width="3.8" height="3.2" fill="#5c5c5c"/></g>
<rect x="1343.5" y="820.8" width="463.3" height="75.9" fill="#ffffff"/>
<g style="mix-blend-mode:multiply"><rect x="1343.5" y="820.8" width="463.3" height="7.6" fill="#939393"/><rect x="1343.5" y="896.7" width="463.3" height="7.6" fill="#939393"/><rect x="1343.5" y="828.4" width="7.8" height="68.3" fill="#939393"/><rect x="1799.2" y="828.4" width="7.6" height="68.3" fill="#939393"/></g>
<rect x="1802.8" y="824.6" width="4" height="76.4" fill="#232323"/>
<rect x="1378" y="859" width="167.9" height="7.6" fill="#808080"/>
<g font-family="'Liberation Sans', Arial, Helvetica, sans-serif" fill="#242424">
<text transform="translate(510.5 76.7) scale(1.0302 1)" font-size="56.9" text-anchor="start">(a)</text>
<text transform="translate(1424.9 76.7) scale(1.0414 1)" font-size="56.9" text-anchor="start">(b)</text>
<text transform="translate(510.3 792.9) scale(1.0897 1)" font-size="56.9" text-anchor="start">(c)</text>
<text transform="translate(1425 792.9) scale(1.0366 1)" font-size="56.9" text-anchor="start">(d)</text>
<text transform="translate(190.5 678.2) scale(1.0131 1)" font-size="52.4" text-anchor="start">500</text>
<text transform="translate(346.8 678.2) scale(0.9970 1)" font-size="52.4" text-anchor="start">1000</text>
<text transform="translate(521.8 678.2) scale(1.0016 1)" font-size="52.4" text-anchor="start">1500</text>
<text transform="translate(694.3 678.2) scale(1.0143 1)" font-size="52.4" text-anchor="start">2000</text>
<text transform="translate(190.5 1391) scale(1.0131 1)" font-size="52.4" text-anchor="start">500</text>
<text transform="translate(346.8 1391) scale(0.9970 1)" font-size="52.4" text-anchor="start">1000</text>
<text transform="translate(521.8 1391) scale(1.0016 1)" font-size="52.4" text-anchor="start">1500</text>
<text transform="translate(694.3 1391) scale(1.0143 1)" font-size="52.4" text-anchor="start">2000</text>
<text transform="translate(1105.5 678.2) scale(1.0131 1)" font-size="52.4" text-anchor="start">500</text>
<text transform="translate(1261.8 678.2) scale(0.9970 1)" font-size="52.4" text-anchor="start">1000</text>
<text transform="translate(1436.8 678.2) scale(1.0016 1)" font-size="52.4" text-anchor="start">1500</text>
<text transform="translate(1609.3 678.2) scale(1.0143 1)" font-size="52.4" text-anchor="start">2000</text>
<text transform="translate(1105.5 1391) scale(1.0131 1)" font-size="52.4" text-anchor="start">500</text>
<text transform="translate(1261.8 1391) scale(0.9970 1)" font-size="52.4" text-anchor="start">1000</text>
<text transform="translate(1436.8 1391) scale(1.0016 1)" font-size="52.4" text-anchor="start">1500</text>
<text transform="translate(1609.3 1391) scale(1.0143 1)" font-size="52.4" text-anchor="start">2000</text>
<text transform="translate(101.4 121.9) scale(1.0855 1)" font-size="50.7" text-anchor="start">0.6</text>
<text transform="translate(101.4 290.9) scale(1.0538 1)" font-size="51.8" text-anchor="start">0.4</text>
<text transform="translate(101.4 460) scale(1.0450 1)" font-size="53.7" text-anchor="start">0.2</text>
<text transform="translate(145.3 628.5) scale(1.1330 1)" font-size="53" text-anchor="start">0</text>
<text transform="translate(101.4 838.7) scale(1.0619 1)" font-size="51.8" text-anchor="start">0.6</text>
<text transform="translate(101.4 1007.7) scale(1.0314 1)" font-size="53" text-anchor="start">0.4</text>
<text transform="translate(101.4 1172.4) scale(1.0561 1)" font-size="53.1" text-anchor="start">0.2</text>
<text transform="translate(145.3 1341.3) scale(1.1330 1)" font-size="53" text-anchor="start">0</text>
<text transform="translate(1016.4 121.9) scale(1.0855 1)" font-size="50.7" text-anchor="start">0.6</text>
<text transform="translate(1016.4 290.9) scale(1.0538 1)" font-size="51.8" text-anchor="start">0.4</text>
<text transform="translate(1016.4 460) scale(1.0450 1)" font-size="53.7" text-anchor="start">0.2</text>
<text transform="translate(1060.3 628.5) scale(1.1330 1)" font-size="53" text-anchor="start">0</text>
<text transform="translate(1016.4 838.7) scale(1.0619 1)" font-size="51.8" text-anchor="start">0.6</text>
<text transform="translate(1016.4 1007.7) scale(1.0314 1)" font-size="53" text-anchor="start">0.4</text>
<text transform="translate(1016.4 1172.4) scale(1.0561 1)" font-size="53.1" text-anchor="start">0.2</text>
<text transform="translate(1060.3 1341.3) scale(1.1330 1)" font-size="53" text-anchor="start">0</text>
<text transform="translate(334.5 751.7) scale(1.0706 1)" font-size="57.8" text-anchor="start">Wavelength/nm</text>
<text transform="translate(334.5 1464.3) scale(1.0706 1)" font-size="57.8" text-anchor="start">Wavelength/nm</text>
<text transform="translate(1249.5 751.7) scale(1.0706 1)" font-size="57.8" text-anchor="start">Wavelength/nm</text>
<text transform="translate(1249.5 1464.3) scale(1.0706 1)" font-size="57.8" text-anchor="start">Wavelength/nm</text>
<text transform="translate(74.7 510.7) rotate(-90) scale(0.9447 1)" font-size="61.2" text-anchor="start">Reflectance</text>
<text transform="translate(74.7 1222.9) rotate(-90) scale(0.9447 1)" font-size="61.2" text-anchor="start">Reflectance</text>
<text transform="translate(989.7 510.7) rotate(-90) scale(0.9447 1)" font-size="61.2" text-anchor="start">Reflectance</text>
<text transform="translate(989.7 1222.9) rotate(-90) scale(0.9447 1)" font-size="61.2" text-anchor="start">Reflectance</text>
<text transform="translate(706.4 161.1) scale(1.0124 1)" font-size="47" text-anchor="start">SNR:50</text>
<text transform="translate(1599.6 156.5) scale(1.0487 1)" font-size="46.5" text-anchor="start">SNR:100</text>
<text transform="translate(671.3 873.4) scale(1.0573 1)" font-size="46.3" text-anchor="start">SNR:200</text>
<text transform="translate(1558 876.8) scale(1.0623 1)" font-size="46.3" text-anchor="start">SNR:1000</text>
</g>
</svg>
</body></html>
